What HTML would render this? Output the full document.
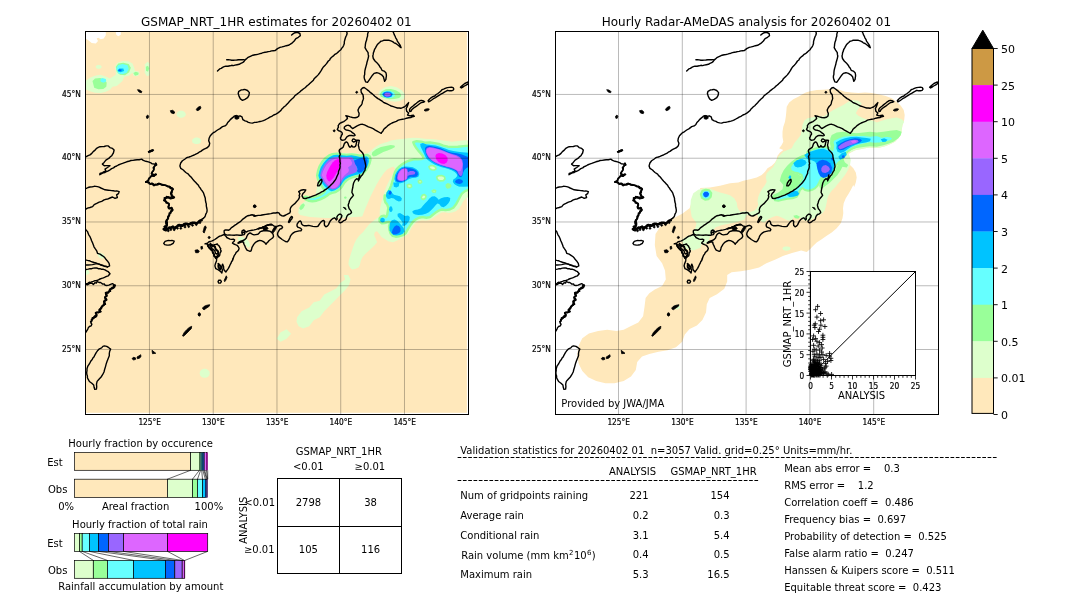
<!DOCTYPE html>
<html><head><meta charset="utf-8"><title>GSMAP_NRT_1HR validation 20260402 01</title>
<style>
html,body{margin:0;padding:0;background:#fff;}
body{width:1080px;height:612px;overflow:hidden;position:relative;}
svg{position:absolute;left:0;top:0;display:block;will-change:transform;}
text{font-family:"DejaVu Sans","Liberation Sans",sans-serif;fill:#000;white-space:pre;}
.t12{font-size:12px}.t11{font-size:11px}.t10{font-size:10px}
.tk{font-family:"DejaVu Sans Condensed","DejaVu Sans","Liberation Sans Narrow",sans-serif;font-stretch:condensed;font-size:8.5px;stroke:#000;stroke-width:0.2px}
.coast{fill:none;stroke:#000;stroke-width:1.4;stroke-linejoin:round;stroke-linecap:round}
.lake{fill:#000;stroke:#000;stroke-width:0.8;stroke-linejoin:round}
.grid{stroke:#000;stroke-opacity:0.27;stroke-width:1;fill:none}
.frame{fill:none;stroke:#000;stroke-width:1}
.thin{fill:none;stroke:#000;stroke-width:0.8}
</style></head><body>
<svg width="1080" height="612" viewBox="0 0 1080 612">
<defs>
<clipPath id="clipL"><rect x="85.5" y="31.5" width="383.0" height="383.0"/></clipPath>
<clipPath id="clipR"><rect x="555.5" y="31.5" width="383.0" height="383.0"/></clipPath>
<g id="coast">
<path class="coast" d="M217.5,71.0 L219.6,68.9 L221.2,68.4 L222.6,67.4 L224.1,66.7 L225.8,66.2 L227.9,66.2 L230.0,65.8 L231.7,65.3 L233.4,65.6 L235.0,65.1 L237.1,64.7 L239.2,64.3 L240.8,63.4 L242.5,62.7 L243.9,61.6 L244.9,60.1 L246.3,58.9 L247.6,57.7 L249.2,56.9 L250.9,56.1 L252.9,55.2 L255.0,54.7 L256.7,54.5 L258.4,54.1 L260.0,53.6 L261.7,53.2 L263.3,52.6 L265.0,52.3 L266.7,52.0 L268.3,51.6 L270.0,51.4 L271.6,50.9 L273.3,50.7 L275.0,50.6 L276.3,49.6 L277.5,48.6 L280.0,47.4 L282.1,46.9 L284.2,46.3 L286.2,45.7 L288.4,45.3 L290.0,44.4 L291.6,43.4 L292.9,42.2 L294.2,41.0 L295.9,38.6 L298.3,37.3 L300.3,35.7 L299.9,33.5 L297.5,32.3 L295.0,32.7 L292.9,33.9 L291.6,35.1"/>
<path class="coast" d="M226.7,59.7 L228.3,59.8 L230.0,59.9 L231.7,60.3 L233.3,60.2 L235.0,60.1 L236.7,60.0 L238.7,59.7 L240.8,59.7 L242.5,59.8 L244.2,59.6"/>
<path class="coast" d="M238.8,91.3 L241.4,89.9 L243.0,89.7 L244.7,89.4 L247.5,90.5 L249.4,92.6 L248.9,95.3 L247.6,97.7 L244.9,99.3 L242.5,100.3 L240.4,98.9 L239.1,96.4 L238.2,93.5Z"/>
<path class="coast" d="M203.3,218.3 L204.5,217.3 L205.3,215.8 L205.8,214.1 L206.7,212.5 L207.1,210.9 L207.0,209.2 L206.6,207.5 L206.3,205.8 L206.3,203.9 L205.7,202.0 L205.4,200.2 L205.3,198.3 L204.7,196.5 L204.1,194.7 L203.5,192.9 L202.5,191.3 L201.3,189.9 L200.4,188.3 L199.2,186.9 L198.4,185.3 L197.1,183.9 L195.8,182.5 L194.5,181.2 L193.2,179.8 L192.0,178.2 L190.8,176.7 L189.4,175.6 L188.4,174.1 L185.8,172.5 L184.5,171.3 L183.3,170.0 L180.8,168.4 L179.9,165.9 L180.7,163.0 L182.4,160.8 L184.7,159.2 L186.0,158.2 L187.4,157.4 L189.2,157.0 L190.8,156.4 L192.5,155.6 L194.2,155.0 L195.8,154.1 L197.5,153.4 L199.1,152.2 L200.8,151.4 L202.4,150.1 L204.1,149.1 L205.8,148.3 L207.5,147.5 L209.1,145.8 L209.7,143.3 L208.7,140.8 L209.1,138.3 L210.3,135.8 L212.4,133.6 L213.6,132.5 L215.1,131.8 L217.5,130.0 L220.0,128.6 L221.2,127.6 L222.5,126.7 L225.0,125.9 L226.7,124.4 L227.7,122.5 L229.2,121.0 L230.3,119.6 L231.7,118.4 L232.9,117.4 L234.1,116.2 L235.8,115.6 L237.5,116.6 L240.0,115.8 L242.0,116.9 L242.9,119.7 L245.0,120.9 L246.8,121.4 L248.3,122.3 L250.4,122.9 L252.5,123.1 L254.5,122.4 L256.6,122.2 L258.3,121.9 L260.0,121.5 L261.7,121.1 L263.4,120.6 L265.1,119.9 L266.7,119.0 L268.3,118.1 L269.9,117.1 L271.7,116.3 L273.7,115.0 L275.9,114.1 L277.6,113.1 L279.2,111.9 L280.6,110.8 L281.6,109.3 L282.9,108.1 L284.1,106.8 L285.6,105.7 L286.7,104.4 L288.4,102.7 L289.9,100.9 L291.6,99.2 L293.4,97.8 L294.8,95.8 L296.7,94.4 L298.1,93.3 L299.5,92.2 L300.8,90.9 L302.2,89.9 L303.6,88.8 L305.1,87.7 L306.4,86.4 L307.8,85.3 L309.2,84.1 L310.6,82.8 L312.0,81.5 L313.4,80.2 L314.2,78.7 L315.4,77.5 L316.7,76.4 L317.9,75.1 L319.0,73.8 L320.0,72.3 L321.3,70.4 L322.4,68.4 L323.6,66.7 L325.1,65.2 L326.3,63.9 L327.3,62.5 L328.3,61.0 L329.7,60.0 L330.4,58.4 L331.6,57.2 L333.4,55.9 L334.9,54.3 L336.8,53.3 L338.4,51.9 L339.5,50.7 L340.9,49.7 L341.8,48.1 L343.0,46.8 L343.7,45.2 L344.3,43.5 L344.3,41.8 L344.7,40.2 L345.2,38.5 L345.8,36.8 L346.6,35.2 L347.1,33.5 L346.6,31.0"/>
<path class="coast" d="M368.3,31.0 L368.2,32.3 L367.6,34.1 L367.6,36.0 L366.9,38.1 L366.6,40.1 L365.8,42.2 L365.4,44.4 L365.3,46.0 L365.0,47.7 L366.4,50.2 L368.1,52.6 L368.2,54.4 L368.6,56.0 L368.2,58.1 L367.6,60.2 L367.0,62.2 L366.6,64.3 L366.0,66.4 L365.4,68.5 L364.9,70.6 L364.7,72.7 L364.7,74.4 L364.2,76.0 L364.2,77.7 L364.6,79.3 L365.7,81.9 L367.5,82.3 L369.1,80.1 L370.8,77.7 L372.5,75.2 L374.1,73.4 L376.7,72.7 L379.2,73.4 L381.6,74.8 L383.4,76.8 L384.1,79.4 L384.6,81.3 L385.9,79.4 L386.1,77.7 L386.4,76.0 L386.3,74.3 L385.9,72.7 L384.1,71.1 L382.0,70.3 L380.9,68.0 L379.8,66.7 L379.0,65.2 L377.1,62.9 L375.0,61.0 L373.3,58.5 L372.8,56.0 L373.2,54.4 L373.4,52.7 L374.1,51.1 L374.6,49.3 L375.5,47.8 L376.3,46.3 L377.2,44.8 L378.4,43.6 L379.6,42.5 L380.8,41.3 L382.5,40.9 L384.1,40.1 L385.8,40.3 L387.5,40.3 L389.2,40.3 L390.9,40.9 L392.6,41.6 L394.1,42.8 L395.9,43.5 L397.5,44.7 L398.8,45.7 L399.9,46.9 L401.1,47.7 L400.1,45.1 L398.4,42.6 L397.3,41.1 L396.7,39.3 L395.7,37.8 L395.0,36.0 L394.2,34.6 L393.7,33.0 L392.5,31.0"/>
<path class="coast" d="M364.2,87.5 L366.6,89.2 L368.3,90.6 L369.9,92.1 L371.6,93.4 L373.3,94.7 L374.8,96.3 L376.6,97.6 L377.9,98.6 L379.4,99.4 L380.8,100.3 L382.2,101.2 L383.5,102.3 L385.0,103.0 L387.1,103.9 L389.2,105.0 L391.2,106.0 L393.4,106.6 L395.4,107.3 L397.5,108.0 L399.2,108.0 L400.8,108.3 L402.5,107.7 L404.2,107.0 L405.6,106.0 L406.7,104.7 L408.6,102.6 L407.7,105.3 L407.1,106.9 L406.2,108.3 L406.7,111.3 L408.6,113.1 L407.5,115.0 L410.0,115.9 L411.7,115.5 L413.4,115.1 L414.3,116.4 L412.5,116.7 L410.8,117.5 L408.7,117.8 L406.6,118.2 L404.6,118.9 L402.5,119.2 L400.4,119.6 L398.3,120.2 L396.3,121.3 L394.2,122.1 L392.0,123.0 L390.0,124.1 L388.2,125.3 L386.7,126.7 L385.1,128.1 L383.6,129.6 L382.8,131.2 L381.6,132.4 L381.2,133.4 L379.6,132.5 L377.6,131.4 L375.3,130.1 L373.1,128.7 L370.8,127.7 L368.4,126.9 L366.5,125.8 L364.5,124.9 L362.6,124.3 L360.6,124.4 L358.7,125.2 L356.7,126.1 L355.1,127.1 L353.7,128.0 L352.5,128.5 L351.1,127.3 L350.2,126.0 L348.6,125.3 L346.9,125.4 L345.4,126.2 L344.4,127.0 L344.2,128.4 L345.1,129.4 L346.5,130.1 L348.2,130.3 L349.9,130.8 L351.2,131.5 L352.4,132.7 L353.8,133.6 L354.7,134.5 L355.1,135.4 L353.8,135.9 L351.8,135.5 L349.8,135.4 L348.2,136.0 L346.9,136.9 L346.0,138.2 L345.0,139.6 L343.6,140.1 L342.0,140.2 L340.7,139.1 L340.4,137.9 L341.1,136.6 L341.6,135.2 L342.4,134.0 L342.0,132.6 L341.0,131.7 L339.7,131.1 L338.3,130.5 L337.3,129.5 L337.7,128.4 L338.5,127.1 L338.1,125.8 L338.9,124.5 L339.8,123.3 L341.6,122.5 L343.7,121.6 L345.2,120.5 L346.5,119.5 L347.5,118.2 L347.0,116.9 L345.8,115.7 L347.9,116.2 L350.2,116.9 L352.5,117.5 L355.1,117.7 L357.3,117.2 L358.6,116.2 L359.0,115.0 L359.1,113.3 L358.4,111.7 L358.0,110.0 L359.2,107.5 L360.2,106.2 L361.4,105.1 L362.1,103.4 L362.4,101.6 L363.0,100.0 L363.5,98.4 L363.2,96.7 L363.1,95.0 L361.3,92.5 L360.9,89.7 L362.5,88.0Z"/>
<path class="coast" d="M409.5,110.1 L410.1,108.5 L411.4,107.3 L413.0,106.0 L414.6,104.6 L416.4,103.2 L418.1,101.8 L419.6,100.8 L421.5,100.4 L423.6,101.0 L424.6,101.6 L423.1,102.3 L421.3,102.6 L419.9,103.5 L418.3,104.8 L416.5,106.1 L414.6,107.3 L413.0,108.6 L411.8,109.7 L410.9,111.4 L409.8,111.5Z"/>
<path class="coast" d="M428.1,100.7 L429.4,99.2 L431.0,97.8 L432.8,96.7 L434.7,96.0 L436.2,94.5 L437.9,93.5 L439.5,92.3 L440.9,91.0 L442.0,89.7 L443.6,89.1 L445.2,88.4 L447.3,87.6 L449.4,87.4 L451.4,87.2 L453.2,87.7 L453.8,89.1 L452.9,90.4 L451.2,90.8 L449.3,90.8 L447.7,90.3 L446.1,91.2 L444.4,92.1 L442.8,93.2 L440.9,94.2 L439.0,95.3 L437.3,96.4 L435.5,97.6 L433.4,98.7 L431.7,100.0 L430.0,101.2 L428.7,101.8Z"/>
<path class="coast" d="M460.4,87.3 L461.7,86.1 L463.2,84.8 L464.8,83.5 L466.6,82.6 L468.1,82.0 L469.0,82.7 L467.8,84.1 L466.1,85.1 L464.4,86.0 L462.8,87.1 L461.4,88.0Z"/>
<path class="coast" d="M224.6,233.8 L224.1,232.1 L224.2,230.7 L225.4,229.9 L227.1,230.0 L228.7,230.2 L230.0,229.3 L231.2,227.9 L233.0,226.7 L234.6,225.4 L236.3,224.3 L237.9,223.2 L239.6,222.1 L241.3,220.7 L242.9,219.1 L244.6,217.9 L246.2,216.6 L247.9,215.7 L250.0,215.3 L252.1,214.8 L253.7,215.1 L254.9,216.1 L256.2,215.7 L258.3,215.4 L260.8,215.3 L263.3,214.8 L265.8,214.4 L268.3,214.0 L270.8,213.6 L273.3,213.0 L275.8,213.0 L277.5,212.5 L279.2,213.1 L279.9,214.6 L281.7,215.7 L283.7,216.0 L285.8,215.0 L287.9,213.8 L289.9,212.8 L290.4,211.3 L290.1,209.6 L290.6,207.9 L291.7,206.2 L293.3,204.8 L295.1,203.4 L296.4,201.8 L297.9,200.1 L299.0,198.5 L299.6,196.8 L299.1,195.7 L299.9,193.6 L298.7,191.7 L300.8,190.3 L303.3,189.7 L305.8,189.9 L304.6,191.9 L302.9,193.6 L302.0,195.8 L303.4,198.3 L305.9,198.5 L307.4,197.9 L309.2,197.5 L311.3,196.7 L313.3,195.8 L315.5,195.1 L317.5,194.1 L319.6,193.1 L321.6,191.9 L323.4,191.1 L324.9,189.9 L326.7,188.8 L328.4,187.5 L329.7,186.3 L330.9,185.1 L332.2,183.8 L333.4,182.5 L334.3,181.2 L335.3,179.9 L336.2,178.3 L336.9,176.6 L337.6,175.0 L338.4,173.4 L338.5,171.6 L339.1,170.0 L339.8,168.4 L340.1,166.7 L339.9,165.0 L340.4,163.3 L339.9,161.7 L339.9,160.0 L339.7,158.3 L339.2,156.6 L340.3,154.2 L339.6,152.6 L339.1,150.9 L339.6,149.6 L341.0,148.7 L342.3,147.9 L343.2,147.0 L343.8,145.3 L344.3,143.8 L345.3,142.5 L346.5,141.9 L347.6,142.7 L348.2,144.1 L348.7,145.7 L349.6,147.0 L350.6,147.1 L351.3,146.2 L351.6,145.4 L352.4,146.7 L354.1,147.1 L355.4,146.4 L356.0,145.1 L356.3,143.4 L356.8,141.8 L356.9,140.8 L355.7,141.2 L354.4,141.8 L353.4,142.0 L352.4,141.2 L352.1,140.5 L352.9,139.2 L353.8,138.9 L354.8,139.5 L355.7,140.1 L357.0,140.3 L358.3,140.2 L359.3,140.5 L359.0,141.8 L358.7,143.4 L358.3,145.1 L358.8,147.0 L359.1,148.7 L359.9,150.3 L361.3,151.6 L362.6,152.9 L363.6,155.0 L363.8,157.1 L364.2,159.2 L364.8,161.1 L365.2,163.0 L365.6,164.8 L365.8,166.7 L365.2,168.4 L365.0,170.3 L364.0,171.7 L363.2,173.3 L362.5,174.7 L361.3,175.8 L359.7,178.3 L358.4,180.9 L358.8,178.9 L359.2,176.9 L359.6,175.0 L359.1,177.5 L358.3,179.6 L356.7,178.7 L355.0,180.3 L353.6,183.0 L353.0,185.8 L352.8,187.5 L352.4,189.2 L352.1,190.8 L351.9,192.5 L352.7,193.9 L353.4,195.4 L352.1,197.1 L350.6,198.7 L349.5,200.8 L348.9,203.0 L348.2,205.0 L348.6,207.1 L349.2,208.7 L350.2,209.9 L351.2,211.3 L351.5,212.7 L350.2,213.8 L348.3,214.5 L347.2,215.8 L346.5,217.3 L346.2,219.0 L345.1,220.2 L343.3,220.9 L341.9,222.2 L340.4,222.9 L339.2,222.4 L338.8,221.2 L339.6,220.0 L340.6,218.7 L341.5,217.3 L341.9,215.7 L340.9,214.3 L339.2,214.3 L337.7,215.5 L336.8,217.2 L337.2,219.1 L336.3,220.0 L335.6,218.8 L334.5,217.8 L333.1,218.4 L331.6,219.5 L330.3,220.9 L329.3,222.9 L328.4,224.9 L327.2,226.2 L325.9,226.8 L324.6,225.6 L324.3,223.7 L324.6,221.7 L323.9,220.5 L322.5,220.8 L321.1,221.9 L319.9,223.4 L318.8,225.0 L317.9,226.3 L316.7,226.6 L315.0,226.6 L312.9,226.4 L310.8,225.9 L308.8,225.4 L306.7,225.8 L304.6,225.8 L302.7,225.1 L301.5,223.8 L301.3,222.1 L300.4,221.0 L299.1,221.4 L298.0,222.8 L297.1,224.2 L297.0,225.9 L297.7,227.1 L299.1,227.7 L300.8,228.4 L301.7,229.6 L300.9,230.8 L299.2,230.9 L297.1,231.4 L295.0,231.9 L293.3,232.9 L291.8,234.2 L290.6,235.8 L289.9,237.6 L289.2,239.2 L288.3,240.8 L287.2,241.9 L285.4,241.5 L283.8,240.5 L282.1,239.5 L280.7,238.3 L279.1,237.2 L278.0,235.8 L277.5,234.2 L277.9,232.5 L278.8,230.9 L279.9,229.2 L281.7,228.5 L282.6,227.1 L281.6,225.9 L280.0,225.3 L277.9,226.0 L275.9,226.6 L273.8,225.8 L271.7,224.5 L269.6,224.9 L267.5,225.1 L265.9,225.9 L264.6,226.7 L263.4,227.2 L262.1,227.7 L260.4,228.3 L258.3,228.7 L256.3,229.4 L254.2,229.9 L252.1,230.2 L250.0,230.6 L247.9,231.2 L246.3,232.1 L245.4,231.7 L244.7,230.5 L243.3,230.0 L242.1,230.8 L241.8,232.5 L242.1,233.7 L243.0,232.5 L244.2,232.0 L244.9,233.3 L244.1,234.6 L242.9,234.9 L241.2,235.3 L239.2,235.3 L236.7,234.9 L234.2,235.3 L231.7,235.1 L229.2,234.9 L227.1,235.1 L225.8,234.7Z"/>
<path class="coast" d="M317.5,185.8 L318.2,183.0 L320.0,180.3 L321.7,179.3 L322.0,181.3 L320.9,183.7 L319.2,185.9Z"/>
<path class="coast" d="M288.5,222.1 L289.1,220.4 L289.8,218.7 L290.9,217.1 L291.8,216.4 L292.5,217.3 L291.9,218.8 L290.8,220.0 L289.9,221.6 L289.0,222.5Z"/>
<path class="coast" d="M247.5,235.0 L248.4,233.8 L250.0,232.9 L251.2,233.5 L252.5,234.4 L254.1,234.9 L255.8,234.6 L257.9,234.3 L259.2,233.0 L260.0,231.9 L261.6,231.2 L263.3,230.8 L265.0,230.5 L267.1,230.7 L268.8,231.0 L270.5,231.4 L271.6,232.5 L272.8,233.7 L273.3,235.0 L273.5,236.7 L272.7,237.9 L271.5,238.8 L270.1,239.8 L268.9,240.7 L267.7,242.2 L266.6,243.3 L266.1,244.3 L265.4,243.3 L264.2,242.2 L262.9,241.3 L261.3,240.6 L259.6,240.4 L257.9,241.0 L256.3,241.8 L255.0,242.9 L253.9,244.1 L253.0,245.7 L252.0,247.3 L251.6,249.0 L251.1,250.8 L250.0,251.3 L248.3,250.7 L247.0,250.1 L246.2,248.8 L245.4,247.5 L244.9,246.0 L244.2,244.6 L243.6,243.2 L243.6,242.1 L242.5,241.8 L241.3,242.1 L240.0,242.6 L238.8,243.2 L237.9,243.0 L239.1,242.0 L240.8,241.2 L242.5,240.6 L244.2,240.0 L245.3,239.1 L246.3,238.0 L246.8,236.5Z"/>
<path class="coast" d="M205.0,243.8 L206.3,243.4 L207.6,243.1 L208.7,242.0 L210.1,241.4 L211.6,241.1 L213.1,240.4 L214.8,239.5 L216.4,238.4 L218.0,237.2 L219.7,236.1 L221.4,235.7 L222.9,235.0 L224.5,234.2 L224.8,235.2 L225.9,236.2 L226.8,237.5 L228.4,238.3 L230.0,239.1 L231.6,239.4 L233.3,239.1 L234.6,239.9 L234.2,241.3 L233.0,242.2 L232.5,243.1 L233.8,244.0 L235.4,244.7 L237.1,245.3 L238.3,246.7 L239.1,248.3 L238.6,250.0 L237.6,251.3 L236.2,252.4 L235.3,254.1 L234.2,255.7 L233.5,257.5 L233.0,259.2 L232.3,261.0 L233.1,258.3 L232.6,260.1 L231.6,261.6 L230.9,263.4 L230.0,265.0 L229.3,266.7 L228.4,268.3 L226.6,270.8 L225.8,272.0 L224.1,270.0 L223.6,268.4 L223.6,266.7 L222.6,264.1 L221.7,266.7 L221.9,268.4 L222.4,270.0 L221.9,273.0 L220.8,271.7 L218.4,269.9 L215.8,268.7 L214.9,265.9 L215.3,264.1 L215.9,262.5 L216.5,260.9 L216.6,259.1 L217.1,257.6 L218.3,256.7 L219.6,255.7 L219.9,254.1 L220.0,253.0 L220.7,252.0 L221.2,250.9 L220.4,249.8 L220.7,248.5 L219.8,247.5 L219.3,246.1 L218.1,245.2 L217.3,244.0 L215.7,244.5 L214.6,244.6 L213.4,245.1 L212.5,245.8 L211.9,246.9 L211.2,248.1 L209.5,248.1 L209.0,247.1 L208.1,246.0 L207.9,244.3 L206.5,243.5Z"/>
<path class="coast" d="M207.5,244.7 L207.9,246.3 L208.9,247.7 L210.0,248.6 L211.2,249.4 L212.7,250.5 L212.4,252.2 L213.0,253.4 L214.3,254.4 L213.8,255.9 L215.0,256.9 L215.7,258.1 L217.1,257.2 L217.5,255.8 L218.5,254.8 L218.3,253.3 L218.3,252.0 L217.7,250.8 L216.2,250.5 L215.9,249.1 L215.1,248.0 L214.7,246.8 L214.1,245.7 L212.9,246.1 L212.0,245.0 L210.6,246.0 L209.8,244.6 L208.5,245.4Z"/>
<path class="coast" d="M210.8,245.0 L210.8,246.7 L211.6,248.1 L212.6,249.2 L214.0,249.8 L214.9,251.0 L215.2,252.4 L215.7,253.5 L216.8,254.0 L218.3,252.7"/>
<path class="coast" d="M218.3,263.7 L220.1,265.3 L221.4,267.5 L220.2,269.6 L219.1,268.0 L218.4,265.8Z"/>
<path class="coast" d="M218.0,281.7 L218.8,280.1 L220.5,280.2 L221.4,281.6 L220.4,283.1 L218.8,283.1Z"/>
<path class="coast" d="M198.3,314.2 L199.3,313.0 L200.3,314.2 L199.3,315.5Z"/>
<path class="coast" d="M163.7,243.3 L165.1,241.4 L166.7,240.9 L168.4,240.4 L170.2,240.6 L172.0,240.4 L174.2,241.2 L173.2,243.3 L170.8,244.7 L168.9,245.0 L167.0,245.1 L164.7,244.6Z"/>
<path class="coast" d="M85.0,157.0 L86.3,156.6 L88.1,155.7 L90.0,154.9 L91.8,153.4 L93.2,151.6 L95.1,150.1 L96.6,148.3 L98.3,147.4 L100.0,146.7 L102.1,146.6 L104.2,146.5 L106.2,145.9 L108.3,145.9 L109.9,147.6 L112.5,148.4 L114.1,150.0 L113.4,153.0 L112.5,154.4 L111.7,155.8 L110.2,156.9 L109.1,158.2 L107.5,159.1 L105.9,160.1 L104.1,162.4 L102.4,164.1 L104.3,165.7 L105.8,165.6 L107.5,165.6 L110.0,165.7 L107.5,167.5 L105.0,169.1 L105.9,171.3 L104.1,171.7 L102.5,172.6 L100.0,173.4 L99.8,174.7 L101.6,173.6 L103.2,172.8 L105.0,172.5 L106.6,171.5 L108.3,170.8 L110.1,169.8 L111.6,168.6 L113.5,167.9 L115.0,166.6 L116.7,166.0 L118.3,165.0 L120.4,164.1 L122.5,163.4 L124.6,162.6 L126.7,161.8 L128.8,161.3 L130.8,160.5 L132.9,160.4 L135.0,160.0 L137.1,159.7 L139.2,159.7 L141.6,159.1 L143.3,160.4 L145.8,161.3 L148.4,161.9 L150.9,162.9 L152.0,163.7 L153.3,163.9 L154.7,164.2 L155.8,163.3 L156.4,165.0 L155.1,165.7 L154.3,166.8 L154.2,168.0 L154.0,169.2 L153.5,170.6 L152.5,171.7 L152.2,172.8 L151.5,173.8 L153.2,174.8 L154.8,175.0 L156.3,174.5 L155.2,175.2 L154.3,176.0 L152.9,175.3 L151.8,175.4 L150.9,176.6 L149.1,178.3 L148.1,180.9 L145.8,182.0 L147.5,182.2 L149.2,182.6 L150.3,184.2 L151.4,183.9 L152.6,184.0 L152.9,185.0 L153.9,185.6 L155.4,184.9 L156.7,184.8 L158.2,184.8 L159.3,184.0 L160.6,183.7 L161.7,184.5 L163.0,184.5 L164.2,185.3 L165.5,185.2 L166.6,186.0 L167.9,186.4 L169.1,186.5 L170.4,186.8 L170.9,187.9 L172.3,187.9 L173.1,189.0 L172.0,191.1 L171.0,192.0 L170.8,193.3 L171.1,194.7 L172.1,195.8 L173.3,196.4 L174.4,197.2 L173.0,198.2 L171.6,198.2 L170.7,197.2 L169.1,197.6 L168.0,196.6 L166.6,197.3 L166.0,198.1 L164.9,198.6 L164.2,200.3 L166.0,201.4 L167.0,202.2 L167.6,203.2 L168.8,203.7 L169.0,205.2 L168.1,206.9 L169.8,208.6 L171.6,207.8 L172.4,210.0 L171.2,210.3 L170.9,211.7 L170.2,213.1 L169.3,214.3 L169.2,215.6 L168.5,216.7 L168.5,218.1 L167.7,219.2 L166.3,220.1 L166.5,221.7 L167.3,222.6 L167.3,223.8 L167.2,225.0 L165.8,226.0 L165.7,227.7 L165.0,228.8 L163.9,229.4 L164.6,230.2 L166.1,229.9 L167.2,229.5 L168.3,228.6 L169.3,227.9 L170.7,228.0 L171.5,226.8 L172.7,227.7 L174.0,227.0 L174.9,228.0 L176.0,226.7 L177.3,226.3 L178.6,225.9 L179.8,225.4 L181.1,226.0 L182.5,225.7 L183.5,225.1 L185.2,225.3 L185.6,223.5 L186.9,224.3 L187.9,224.9 L189.1,224.5 L189.9,223.1 L191.1,222.7 L192.7,223.0 L193.6,223.0 L194.7,223.4 L195.8,223.3 L197.1,222.8 L198.3,222.3 L199.1,221.0 L200.5,221.1 L201.6,220.0 L202.0,218.9 L203.5,218.5"/>
<path class="coast" d="M85.0,188.7 L86.4,188.4 L88.1,187.5 L90.0,187.0 L92.1,186.9 L94.2,186.3 L95.8,186.4 L97.5,186.6 L99.2,187.2 L100.9,188.0 L103.4,189.1 L105.0,189.8 L106.7,190.0 L108.3,190.2 L110.0,190.4 L111.7,190.6 L113.3,190.8 L115.0,191.1 L116.7,190.9 L119.2,191.6 L118.4,193.7 L116.6,194.9 L117.4,197.5 L115.0,198.3 L112.5,197.0 L110.0,198.0 L107.5,199.1 L105.8,199.3 L104.1,199.9 L101.7,201.3 L99.2,202.1 L96.7,203.4 L94.2,204.6 L92.6,206.7 L90.0,207.5 L87.5,208.2 L85.0,209.6"/>
<path class="coast" d="M85.0,228.3 L86.2,230.1 L87.5,231.6 L88.2,233.4 L88.9,235.1 L90.0,236.7 L90.9,238.7 L91.6,240.8 L92.6,242.9 L93.4,245.0 L94.0,246.8 L95.0,248.4 L96.7,250.8 L97.5,253.3 L100.0,254.1 L102.5,255.8 L103.9,256.8 L105.0,257.9 L106.1,259.6 L107.4,260.9 L109.1,263.4 L109.6,265.9 L107.5,267.0 L105.9,266.6 L104.2,266.2 L102.5,265.6 L100.8,265.1 L99.2,264.2 L97.5,263.6 L95.9,262.9 L94.2,262.5 L92.5,262.0 L90.8,261.4 L89.2,260.7 L87.5,260.4 L85.0,259.9"/>
<path class="coast" d="M85.0,265.3 L86.6,264.9 L88.3,265.0 L90.4,264.9 L92.5,264.6 L94.6,264.1 L96.7,263.6 L98.8,264.1 L100.8,264.7 L102.5,265.2 L104.1,265.9 L105.9,266.2 L107.5,266.9"/>
<path class="coast" d="M85.0,270.0 L86.6,269.4 L88.3,269.1 L90.0,268.6 L91.7,268.7 L93.3,268.1 L95.0,268.0 L96.7,268.0 L98.3,268.7 L100.0,268.6 L101.6,269.3 L103.4,269.3 L105.0,269.9 L106.6,270.9 L108.3,271.7 L110.0,273.7 L108.3,275.8 L106.6,276.3 L105.0,277.1 L103.4,277.8 L101.7,278.3 L100.0,279.0 L98.4,279.8 L96.7,280.5 L95.0,280.7 L93.3,281.4 L91.6,281.9 L90.6,282.5 L89.3,282.2 L88.3,282.9 L87.4,284.0 L86.2,283.7 L85.0,283.7"/>
<path class="coast" d="M85.0,284.7 L86.2,284.4 L87.6,284.8 L88.8,283.9 L89.9,283.3 L91.3,283.1 L92.4,283.3 L93.3,284.5 L94.3,283.6 L94.9,282.6 L96.3,283.1 L97.1,281.5 L98.4,282.2 L99.4,282.5 L100.6,282.5 L101.6,283.2 L102.7,284.1 L104.3,284.0 L105.2,285.3 L106.9,285.5 L107.8,285.4 L108.9,285.1 L110.0,284.6 L111.2,284.1 L112.5,283.6 L113.8,284.5 L114.9,285.5 L114.8,286.9 L113.6,287.7 L112.4,288.7 L110.9,288.9 L110.1,289.6 L110.1,290.9 L109.1,291.6 L108.6,292.7 L107.2,293.2 L105.7,293.0 L105.7,294.8 L106.8,295.8 L105.6,296.4 L104.8,297.3 L105.2,299.0 L106.5,299.9 L105.4,301.0 L104.3,301.8 L105.0,302.8 L105.2,304.1 L104.0,305.4 L102.4,305.6 L101.4,306.9 L100.7,308.2 L100.3,309.5 L99.4,310.3 L100.7,311.5 L99.7,312.2 L98.2,312.2 L96.9,312.4 L95.7,313.0 L96.8,314.4 L96.6,315.8 L95.2,315.6 L94.2,316.6 L93.8,318.2 L92.4,319.1 L91.7,320.5 L91.1,321.8 L90.9,323.0 L91.9,324.1 L91.2,325.8 L89.4,326.5 L88.4,327.6 L87.8,329.1 L86.4,331.4 L85.1,333.4"/>
<path class="coast" d="M104.4,345.9 L106.7,346.4 L108.8,347.7 L110.6,349.1 L109.7,351.2 L109.3,353.5 L109.3,355.8 L108.2,358.4 L107.1,361.2 L106.2,363.9 L105.5,366.6 L104.7,369.2 L104.0,372.0 L102.6,374.7 L101.1,377.0 L99.0,379.2 L97.1,381.4 L96.5,384.1 L96.7,386.8 L96.4,389.1 L94.7,389.4 L94.1,387.3 L93.7,385.0 L91.8,383.2 L89.4,381.5 L88.1,379.2 L87.4,377.7 L87.4,376.0 L86.8,374.3 L86.7,372.4 L87.0,370.6 L87.0,368.8 L87.8,366.2 L88.7,364.8 L89.6,363.5 L91.1,360.7 L92.2,359.5 L92.9,358.0 L94.1,356.8 L94.7,355.3 L96.2,352.6 L97.8,350.4 L99.4,348.8 L101.6,347.9 L102.9,346.4Z"/>
<path class="coast" style="stroke-width:2.6" d="M166.3,221.7 L166.6,222.8 L166.7,223.9 L166.7,225.1 L166.5,225.9 L165.9,226.7 L165.3,227.5 L164.8,228.6 L163.7,229.2 L164.8,229.8 L165.9,230.2 L166.9,228.8 L168.3,228.5 L169.2,227.6 L170.7,228.1 L171.7,227.3 L172.9,226.7 L173.8,228.2 L175.0,228.0 L176.2,227.1 L177.3,226.4 L178.2,225.3 L179.5,225.0 L180.4,225.8 L181.5,225.3 L182.5,225.8 L183.4,225.0 L184.4,224.0 L185.8,223.8 L187.0,223.9 L188.0,224.6 L189.2,224.3 L190.4,224.0 L191.4,223.2 L192.6,222.8 L193.6,222.8 L194.8,222.7 L195.8,223.5 L197.3,223.1 L198.3,222.2 L199.2,221.3 L200.3,220.5 L201.6,220.2"/>
<path class="coast" style="stroke-width:2.0" d="M170.8,188.0 L171.9,188.6 L172.9,189.3 L172.2,189.9 L171.9,191.0 L171.9,192.3 L170.9,193.4 L171.7,194.4 L171.8,195.9 L172.9,196.9 L174.1,197.6 L172.9,197.8 L171.6,198.2 L170.3,198.4 L169.2,197.5 L167.8,197.7 L166.7,196.7 L166.0,198.2 L164.5,198.1 L165.0,199.5 L164.0,200.3 L165.1,200.8 L165.9,201.6 L166.3,202.8 L167.7,203.1 L168.8,203.7 L169.0,205.2 L168.7,206.0 L168.6,207.1 L168.7,208.2 L169.8,208.6 L171.6,207.7 L172.2,209.0 L172.7,209.9 L171.9,211.0 L170.8,211.6 L170.7,212.8 L169.5,213.2 L169.4,214.3 L169.2,215.6 L168.1,216.6 L168.0,218.0 L167.6,219.2 L166.8,220.4 L166.3,221.7"/>
<path class="coast" style="stroke-width:1.8" d="M145.8,182.0 L147.0,181.8 L148.0,182.6 L149.1,182.6 L149.3,183.6 L150.5,184.0 L151.3,183.5 L152.4,183.4 L153.6,184.2 L154.1,185.4 L155.3,184.5 L156.7,184.7 L157.8,183.8 L159.1,183.5 L160.5,184.1 L161.6,184.9 L162.9,185.1 L164.3,185.0 L165.5,185.3 L166.7,185.6 L167.8,186.6 L169.1,186.5 L169.7,187.5 L170.7,188.2"/>
<path class="coast" style="stroke-width:1.6" d="M155.8,163.3 L156.6,164.9 L155.1,165.6 L154.1,166.6 L153.3,167.8 L153.8,169.2 L153.4,170.6 L152.4,171.6 L151.7,172.6 L151.5,173.7 L152.2,174.3 L153.4,174.4 L154.3,174.9 L155.4,174.1 L156.3,174.5 L155.0,174.8 L154.2,175.9 L153.1,176.3 L151.9,175.7 L150.8,176.2 L150.4,177.6 L149.1,178.3 L148.4,179.5 L148.2,180.9 L146.8,181.2 L146.0,182.2"/>
<path class="coast" style="stroke-width:2.0" d="M115.0,285.3 L113.7,286.0 L113.6,287.7 L111.9,287.8 L110.9,288.9 L109.8,289.5 L110.3,291.0 L108.8,291.3 L108.2,292.4 L106.9,292.4 L105.7,293.0 L106.6,294.5 L106.8,295.8 L105.6,296.5 L105.1,297.6 L106.0,298.6 L106.5,299.9 L104.9,300.4 L104.0,301.5 L104.2,303.0 L105.2,304.1 L103.8,304.2 L103.3,305.3 L102.6,306.0 L102.0,306.7 L101.5,307.6 L101.1,308.5 L99.9,309.1 L99.2,310.1 L99.9,310.7 L100.6,311.6 L99.5,311.7 L98.4,312.6 L96.9,312.4 L95.7,313.0 L96.3,314.6 L96.4,315.9 L95.6,316.9 L94.2,316.9 L94.0,317.8 L92.5,318.0 L92.4,319.1 L91.7,319.8 L91.6,321.0 L90.8,321.7"/>
<path class="coast" style="stroke-width:1.7" d="M207.5,244.7 L208.2,245.5 L208.6,246.5 L209.2,247.5 L210.0,248.6 L210.9,249.6 L211.6,250.4 L212.6,250.7 L212.8,252.1 L213.6,253.3 L213.9,254.5 L214.2,255.8 L215.3,256.7 L215.7,258.1 L216.5,256.8 L217.6,255.9 L218.3,254.7 L218.2,253.3 L218.3,252.0 L217.6,250.8 L216.8,249.9 L215.7,249.3 L215.4,247.9 L215.1,246.6 L213.9,246.2 L212.9,245.4 L212.0,244.9 L211.1,244.4 L210.4,243.5"/>
<path class="coast" style="stroke-width:1.6" d="M218.3,263.7 L219.2,264.5 L219.9,265.4 L220.4,266.6 L221.4,267.5 L220.6,268.5 L220.3,269.6 L219.8,268.8 L218.9,268.1 L218.3,267.0 L218.3,265.8"/>
<path class="coast" style="stroke-width:1.8" d="M258.3,228.8 L259.3,228.2 L260.4,228.2 L262.1,227.6 L263.3,226.9 L264.6,226.7 L265.8,225.8 L267.5,225.2 L268.5,225.0 L269.6,224.7 L270.6,224.5 L271.7,224.7"/>
<path class="lake" d="M424.0,110.3 L425.2,109.3 L427.3,108.7 L429.2,108.9 L428.9,110.0 L427.3,110.8 L425.4,111.1Z"/>
<path class="lake" d="M357.7,92.3 L357.4,93.0 L356.7,93.3 L356.0,93.0 L355.7,92.3 L356.0,91.6 L356.7,91.3 L357.4,91.6Z"/>
<path class="lake" d="M335.2,130.8 L334.9,131.5 L334.2,131.8 L333.5,131.5 L333.2,130.8 L333.5,130.1 L334.2,129.8 L334.9,130.1Z"/>
<path class="lake" d="M275.0,226.3 L276.9,226.8 L275.6,229.6 L273.3,232.8 L271.5,232.3 L273.0,229.3Z"/>
<path class="lake" d="M262.6,228.6 L264.2,227.2 L266.8,227.0 L268.2,228.2 L267.0,229.8 L264.2,230.2Z"/>
<path class="lake" d="M343.2,207.3 L345.4,207.8 L346.2,209.7 L344.7,208.8Z"/>
<path class="lake" d="M205.3,225.8 L206.3,227.5 L205.3,230.0 L204.2,233.0 L203.0,232.0 L203.7,229.2 L204.3,227.0Z"/>
<path class="lake" d="M210.3,237.5 L209.9,238.3 L209.2,238.6 L208.4,238.3 L208.1,237.5 L208.4,236.7 L209.2,236.4 L209.9,236.7Z"/>
<path class="lake" d="M195.0,250.3 L197.5,249.7 L199.3,251.0 L198.3,252.7 L195.7,252.7Z"/>
<path class="lake" d="M200.8,246.7 L202.3,246.3 L202.7,248.7 L201.2,249.3Z"/>
<path class="lake" d="M226.3,275.8 L227.0,277.5 L225.8,280.3 L224.7,281.7 L224.2,280.3 L225.3,278.0Z"/>
<path class="lake" d="M202.5,308.0 L204.2,306.3 L206.7,305.3 L209.7,304.7 L209.2,306.3 L206.7,308.0 L204.2,309.7 L203.0,309.2Z"/>
<path class="lake" d="M148.0,151.7 L150.8,150.3 L153.3,149.7 L153.7,150.7 L151.0,151.7 L148.7,152.7Z"/>
<path class="lake" d="M256.0,206.3 L255.6,207.3 L254.7,207.6 L253.7,207.3 L253.4,206.3 L253.7,205.4 L254.7,205.0 L255.6,205.4Z"/>
<path class="lake" d="M256.0,206.2 L255.6,207.1 L254.7,207.5 L253.7,207.1 L253.4,206.2 L253.7,205.2 L254.7,204.9 L255.6,205.2Z"/>
<path class="lake" d="M253.0,215.3 L255.0,215.0 L255.7,216.2 L253.7,216.5Z"/>
<path class="lake" d="M182.5,335.8 L184.2,332.5 L186.7,329.7 L189.2,327.5 L191.7,326.3 L191.3,328.7 L189.2,330.8 L187.0,333.0 L185.0,335.0 L183.3,336.3Z"/>
<path class="lake" d="M152.0,350.3 L155.8,353.3 L152.5,353.7Z"/>
<path class="lake" d="M132.0,358.7 L133.3,357.3 L135.3,357.7 L135.7,359.3 L133.7,360.0Z"/>
<path class="lake" d="M137.0,357.0 L138.7,356.0 L140.7,354.7 L141.0,356.7 L139.3,358.3 L137.3,358.7Z"/>
<path class="lake" d="M200.3,315.0 L200.0,315.7 L199.3,316.0 L198.6,315.7 L198.3,315.0 L198.6,314.3 L199.3,314.0 L200.0,314.3Z"/>
<path class="lake" d="M137.5,89.7 L139.7,90.0 L142.0,91.7 L141.3,92.7 L139.0,92.0Z"/>
<path class="lake" d="M146.3,116.3 L147.7,115.0 L148.7,116.3 L148.0,118.3 L146.7,118.3Z"/>
<path class="lake" d="M170.3,110.7 L172.7,110.3 L174.7,112.0 L174.0,113.7 L171.3,113.0Z"/>
<path class="lake" d="M196.3,109.3 L198.0,107.3 L200.3,106.3 L201.0,108.0 L199.3,110.0 L197.0,110.7Z"/>
<path class="lake" d="M148.0,151.7 L150.8,150.3 L153.3,149.7Z"/>
<path class="lake" d="M148.0,152.0 L150.5,150.5 L153.0,150.0 L153.0,151.0 L150.5,152.0Z"/>
<path class="lake" d="M234.7,116.3 L236.7,115.3 L238.7,116.3 L239.0,118.3 L237.0,119.3 L235.0,118.7Z"/>
<path class="lake" d="M169.3,230.7 L169.0,231.4 L168.3,231.7 L167.6,231.4 L167.3,230.7 L167.6,230.0 L168.3,229.7 L169.0,230.0Z"/>
<path class="lake" d="M171.7,229.7 L171.5,230.3 L170.8,230.6 L170.2,230.3 L169.9,229.7 L170.2,229.0 L170.8,228.8 L171.5,229.0Z"/>
<path class="lake" d="M175.2,229.7 L174.9,230.4 L174.2,230.7 L173.5,230.4 L173.2,229.7 L173.5,229.0 L174.2,228.7 L174.9,229.0Z"/>
<path class="lake" d="M178.4,228.3 L178.1,229.0 L177.5,229.2 L176.9,229.0 L176.6,228.3 L176.9,227.7 L177.5,227.4 L178.1,227.7Z"/>
<path class="lake" d="M181.8,228.3 L181.5,229.0 L180.8,229.3 L180.1,229.0 L179.8,228.3 L180.1,227.6 L180.8,227.3 L181.5,227.6Z"/>
<path class="lake" d="M186.0,227.0 L185.7,227.7 L185.0,228.0 L184.3,227.7 L184.0,227.0 L184.3,226.3 L185.0,226.0 L185.7,226.3Z"/>
<path class="lake" d="M189.6,226.7 L189.3,227.3 L188.7,227.6 L188.0,227.3 L187.8,226.7 L188.0,226.0 L188.7,225.8 L189.3,226.0Z"/>
<path class="lake" d="M193.5,225.3 L193.2,226.0 L192.5,226.3 L191.8,226.0 L191.5,225.3 L191.8,224.6 L192.5,224.3 L193.2,224.6Z"/>
<path class="lake" d="M197.2,224.7 L197.0,225.3 L196.3,225.6 L195.7,225.3 L195.4,224.7 L195.7,224.0 L196.3,223.8 L197.0,224.0Z"/>
<path class="lake" d="M165.7,226.7 L165.4,227.4 L164.7,227.7 L164.0,227.4 L163.7,226.7 L164.0,226.0 L164.7,225.7 L165.4,226.0Z"/>
<path class="lake" d="M167.2,223.0 L167.0,223.6 L166.3,223.9 L165.7,223.6 L165.4,223.0 L165.7,222.4 L166.3,222.1 L167.0,222.4Z"/>
<path class="lake" d="M200.9,222.7 L200.6,223.3 L200.0,223.6 L199.4,223.3 L199.1,222.7 L199.4,222.0 L200.0,221.8 L200.6,222.0Z"/>
</g>
</defs>
<rect x="85.5" y="31.5" width="381.4" height="381.3" fill="#ffe8bb"/>
<g clip-path="url(#clipL)">
<path d="M85.5,31.5 L105.8,31.5 L105.8,35.2 L103.7,38.5 L100.8,39.3 L98.3,37.7 L96.7,38.5 L98.0,41.0 L95.8,43.5 L91.7,43.0 L88.3,40.2 L85.5,38.5Z" fill="#fff" />
<path d="M115.8,31.5 L120.8,31.5 L120.8,34.7 L118.3,36.3 L116.3,34.7Z" fill="#fff" />
<path d="M298.3,213.3 L298.7,208.3 L300.8,204.7 L304.2,201.7 L308.3,200.3 L312.5,198.7 L315.0,195.8 L316.3,191.7 L317.0,186.7 L317.5,181.7 L318.0,175.8 L319.2,170.8 L320.8,165.8 L323.0,161.3 L325.8,157.5 L329.2,155.0 L333.3,153.3 L338.3,152.5 L343.3,153.0 L348.3,153.3 L353.3,153.0 L358.3,153.7 L363.3,154.2 L367.5,153.3 L370.0,151.7 L372.5,149.2 L375.8,146.7 L380.0,144.2 L385.0,142.5 L386.7,142.2 L391.1,140.6 L396.7,139.4 L402.2,138.9 L407.8,138.3 L413.3,137.8 L418.9,138.0 L424.4,138.7 L430.0,138.9 L435.6,139.4 L441.1,140.2 L446.7,141.1 L452.2,141.7 L457.8,141.1 L463.3,140.6 L468.9,140.2 L469.3,196.6 L465.6,198.5 L463.1,201.5 L461.3,205.2 L458.8,208.9 L455.8,211.3 L452.1,212.6 L448.4,212.9 L444.8,212.2 L441.7,212.6 L438.6,214.2 L435.6,216.2 L432.5,218.3 L429.4,219.9 L425.8,220.5 L422.1,220.3 L419.0,220.8 L416.3,222.4 L413.9,224.5 L411.9,227.3 L410.2,230.6 L409.0,233.4 L409.0,233.4 L405.7,235.6 L402.1,237.8 L397.6,240.3 L393.2,242.2 L388.8,241.5 L385.1,239.3 L381.5,237.1 L379.3,234.1 L377.1,231.2 L374.9,231.9 L374.1,234.9 L375.6,238.5 L377.1,242.2 L374.9,245.1 L371.9,248.1 L368.5,251.0 L365.3,254.0 L362.6,256.9 L360.9,260.6 L360.1,264.3 L358.7,267.2 L355.7,268.7 L352.1,269.4 L349.9,267.2 L348.4,264.3 L348.8,260.6 L349.9,256.9 L351.3,252.5 L352.8,248.1 L354.3,243.7 L356.5,239.3 L359.4,235.6 L363.1,231.9 L366.0,228.2 L369.0,224.6 L372.6,221.6 L376.3,218.7 L379.3,216.5 L380.7,215.0 L370.0,216.0 L355.0,217.0 L340.0,218.0 L325.0,218.0 L310.0,217.0 L300.0,215.0 L297.0,211.0Z" fill="#ddffcc" />
<path d="M389.8,168.0 L393.4,166.5 L395.2,168.9 L392.8,174.3 L389.8,179.6 L387.1,185.0 L384.9,190.4 L383.1,196.7 L381.3,203.0 L379.9,209.3 L379.5,217.4 L361.9,217.4 L364.6,210.2 L367.3,203.9 L370.0,197.6 L373.1,191.3 L376.3,185.0 L379.9,178.7 L383.9,173.0 L387.1,169.4Z" fill="#ffe8bb" />
<path d="M297.1,317.2 L301.6,311.2 L309.2,307.6 L313.7,302.2 L319.7,300.7 L324.2,294.6 L330.2,291.6 L336.2,288.6 L340.7,282.6 L345.2,279.6 L343.7,275.1 L348.2,275.1 L350.6,279.6 L348.8,285.6 L345.2,290.1 L340.7,294.6 L335.6,299.8 L330.2,305.2 L324.2,311.2 L319.7,317.2 L313.7,320.2 L309.2,326.2 L303.1,328.6 L298.6,326.2 L296.5,321.7Z" fill="#ddffcc" />
<path d="M276.7,338.8 L280.6,332.2 L286.6,329.2 L291.1,333.7 L286.6,338.8 L280.6,341.8Z" fill="#ddffcc" />
<path d="M85.5,81.0 L90.0,77.7 L95.0,75.7 L100.0,74.7 L104.2,76.0 L110.0,78.5 L115.8,74.7 L115.8,71.8 L114.7,66.8 L117.5,62.7 L122.5,61.0 L128.3,61.3 L132.5,63.5 L134.2,67.7 L135.0,71.0 L138.7,71.5 L140.0,74.0 L137.5,76.3 L133.7,76.0 L132.5,72.7 L128.7,75.7 L124.2,76.8 L122.5,81.0 L116.7,86.0 L112.5,86.8 L110.0,89.7 L105.8,91.8 L100.8,93.0 L95.0,92.7 L90.0,91.3 L85.5,89.3Z" fill="#ddffcc" />
<path d="M101.7,66.8 L101.4,67.7 L100.5,68.4 L99.3,68.8 L98.0,68.8 L96.8,68.4 L96.0,67.7 L95.7,66.8 L96.0,66.0 L96.8,65.3 L98.0,64.9 L99.3,64.9 L100.5,65.3 L101.4,66.0Z" fill="#ddffcc" />
<path d="M145.0,64.3 L147.5,61.8 L149.7,63.5 L149.7,75.2 L147.0,76.3 L144.7,72.7Z" fill="#ddffcc" />
<path d="M185.8,114.3 L185.3,115.9 L184.0,117.1 L182.2,117.8 L180.1,117.8 L178.3,117.1 L177.0,115.9 L176.6,114.3 L177.0,112.8 L178.3,111.5 L180.1,110.8 L182.2,110.8 L184.0,111.5 L185.3,112.8Z" fill="#ddffcc" />
<path d="M201.3,140.8 L200.8,142.3 L199.5,143.5 L197.7,144.1 L195.6,144.1 L193.8,143.5 L192.5,142.3 L192.1,140.8 L192.5,139.4 L193.8,138.2 L195.6,137.5 L197.7,137.5 L199.5,138.2 L200.8,139.4Z" fill="#ddffcc" />
<path d="M209.7,373.3 L209.2,375.3 L207.8,376.9 L205.8,377.8 L203.6,377.8 L201.5,376.9 L200.2,375.3 L199.7,373.3 L200.2,371.3 L201.5,369.7 L203.6,368.8 L205.8,368.8 L207.8,369.7 L209.2,371.3Z" fill="#ddffcc" />
<path d="M237.7,237.5 L240.0,236.8 L242.5,237.1 L245.0,237.9 L246.7,239.2 L248.3,240.8 L249.6,242.9 L250.0,245.4 L249.2,247.3 L247.7,247.5 L246.2,245.8 L245.0,243.8 L243.8,242.1 L241.7,241.2 L239.6,241.7 L238.2,240.4Z" fill="#ddffcc" />
<path d="M96.7,253.3 L100.0,252.5 L103.7,254.2 L105.3,257.0 L102.5,258.7 L99.2,257.5Z" fill="#ddffcc" />
<path d="M85.5,269.2 L88.3,270.0 L89.7,273.0 L87.0,275.0 L85.5,274.7Z" fill="#ddffcc" />
<path d="M378.3,94.3 L380.0,90.2 L385.0,87.3 L390.8,86.0 L396.7,87.3 L401.7,90.2 L405.0,94.3 L404.2,98.5 L400.0,101.0 L395.0,101.8 L390.0,101.0 L385.0,99.7 L380.8,97.7Z" fill="#ddffcc" />
<path d="M92.5,81.0 L95.0,78.5 L100.0,78.0 L104.2,79.3 L106.7,82.7 L106.3,86.8 L103.3,89.0 L98.3,89.3 L94.2,87.7Z" fill="#99ff99" />
<path d="M115.8,66.8 L118.3,63.5 L123.3,62.7 L128.7,64.0 L130.8,67.7 L129.2,72.3 L125.0,75.2 L120.0,74.7 L116.7,71.8Z" fill="#99ff99" />
<path d="M133.3,73.0 L135.8,71.8 L138.7,72.7 L138.3,74.7 L135.0,75.7Z" fill="#99ff99" />
<path d="M145.8,66.8 L148.0,65.7 L149.2,68.5 L148.0,71.8 L146.0,70.7Z" fill="#99ff99" />
<path d="M379.7,94.3 L381.7,91.3 L385.8,89.3 L390.8,89.0 L395.8,90.2 L400.0,92.7 L401.3,95.7 L399.2,98.0 L394.2,99.0 L389.2,99.3 L384.2,98.0 L380.8,96.8Z" fill="#99ff99" />
<path d="M372.3,152.3 L376.0,149.2 L380.9,147.1 L385.8,145.9 L390.7,145.1 L394.4,145.5 L395.0,147.1 L391.9,148.8 L387.6,150.4 L383.3,152.0 L379.7,154.1 L376.0,155.9 L373.5,156.5 L371.7,154.7Z" fill="#99ff99" />
<path d="M299.2,208.3 L300.8,205.0 L303.3,203.3 L305.0,205.0 L303.3,208.3 L300.8,210.3Z" fill="#99ff99" />
<path d="M346.6,197.6 L346.5,198.1 L346.2,198.5 L345.6,198.8 L345.1,198.8 L344.5,198.5 L344.2,198.1 L344.0,197.6 L344.2,197.1 L344.5,196.7 L345.1,196.4 L345.6,196.4 L346.2,196.7 L346.5,197.1Z" fill="#99ff99" />
<path d="M317.2,175.5 L318.1,170.6 L319.6,166.3 L322.1,162.1 L325.1,158.4 L328.8,155.7 L332.5,154.1 L336.8,153.7 L341.7,154.5 L346.6,155.0 L351.5,154.5 L355.8,155.0 L360.0,155.7 L363.7,155.3 L367.4,155.0 L369.9,156.5 L370.5,159.6 L369.6,163.3 L368.0,167.0 L366.2,170.0 L363.7,172.8 L361.0,174.9 L358.2,175.8 L355.1,176.5 L352.1,177.4 L349.0,178.6 L346.6,180.4 L344.1,182.9 L342.3,186.0 L340.4,188.4 L338.0,190.5 L335.3,192.1 L332.1,192.9 L329.4,193.9 L327.0,195.8 L323.9,197.6 L320.2,199.4 L316.5,200.7 L312.3,201.3 L308.6,200.7 L305.5,199.4 L303.7,197.6 L305.5,196.6 L309.2,197.4 L312.9,197.4 L316.5,196.4 L320.2,194.9 L323.3,192.9 L325.1,190.9 L323.3,188.4 L321.1,185.3 L319.4,182.3 L317.9,179.0Z" fill="#66ffff" stroke="#99ff99" stroke-width="2.4" stroke-linejoin="round"/>
<path d="M413.3,142.2 L416.7,141.1 L421.1,141.7 L425.6,142.8 L430.0,142.4 L434.4,143.1 L438.9,143.9 L443.3,145.6 L447.8,146.7 L452.2,146.9 L457.8,146.7 L463.3,146.1 L468.9,145.6 L469.3,189.3 L465.0,191.1 L461.9,193.6 L460.1,196.6 L458.2,200.3 L455.8,204.6 L453.3,207.7 L449.7,209.5 L445.4,210.1 L441.7,209.5 L438.6,210.7 L435.6,212.6 L432.5,215.0 L430.0,217.1 L426.4,217.8 L422.7,217.1 L419.0,217.8 L416.0,219.3 L413.1,221.5 L411.1,224.2 L409.0,227.3 L407.0,230.6 L405.5,233.4 L403.1,235.2 L399.4,236.2 L395.7,236.7 L392.7,235.9 L390.6,233.4 L389.4,229.7 L389.0,226.1 L390.2,222.4 L388.4,221.8 L384.7,223.0 L381.6,223.2 L379.6,221.2 L379.6,218.3 L381.6,216.2 L384.1,215.6 L385.9,217.1 L387.2,215.0 L387.8,211.3 L388.4,207.7 L387.2,204.6 L385.3,202.2 L384.5,199.1 L384.7,195.4 L386.7,195.6 L388.0,192.2 L389.8,188.9 L391.1,185.6 L392.2,182.2 L393.1,178.9 L393.9,175.6 L395.0,172.2 L396.7,169.1 L399.4,166.4 L402.2,164.2 L405.0,162.4 L407.8,161.1 L411.1,160.0 L414.4,159.1 L417.8,159.4 L421.1,159.1 L423.3,158.3 L422.8,156.1 L420.6,153.3 L418.3,150.6 L416.1,147.8 L414.4,145.0Z" fill="#66ffff" stroke="#99ff99" stroke-width="2.4" stroke-linejoin="round"/>
<path d="M428.9,166.7 L430.6,165.6 L433.3,165.8 L435.6,167.2 L436.1,168.9 L434.4,170.0 L431.7,169.8 L429.8,168.7Z" fill="#ddffcc" stroke="#99ff99" stroke-width="1.6" stroke-linejoin="round"/>
<path d="M436.7,177.2 L438.3,175.8 L441.7,175.6 L444.4,176.7 L445.0,178.9 L443.3,180.6 L440.0,180.9 L437.6,179.8Z" fill="#ddffcc" stroke="#99ff99" stroke-width="1.6" stroke-linejoin="round"/>
<path d="M418.3,181.1 L419.8,180.2 L421.3,180.9 L421.7,182.4 L420.2,183.3 L418.7,182.8Z" fill="#ddffcc" stroke="#99ff99" stroke-width="1.6" stroke-linejoin="round"/>
<path d="M407.2,185.0 L409.1,184.2 L411.1,184.7 L411.7,186.7 L410.0,187.8 L407.8,187.2Z" fill="#ddffcc" stroke="#99ff99" stroke-width="1.6" stroke-linejoin="round"/>
<path d="M432.2,190.9 L433.9,190.0 L435.6,190.6 L435.3,192.0 L433.3,192.2Z" fill="#ddffcc" stroke="#99ff99" stroke-width="1.6" stroke-linejoin="round"/>
<path d="M421.2,197.3 L422.5,195.0 L424.5,194.6 L426.1,196.0 L425.4,198.2 L423.3,199.5 L421.7,198.7Z" fill="#ddffcc" stroke="#99ff99" stroke-width="1.6" stroke-linejoin="round"/>
<path d="M445.6,184.4 L447.8,183.1 L450.6,183.9 L451.7,186.1 L450.0,188.3 L447.2,188.7 L445.6,186.9Z" fill="#99ff99" />
<path d="M381.3,94.3 L383.0,91.8 L386.7,90.7 L390.8,91.0 L394.2,92.7 L395.0,95.7 L392.5,97.7 L388.3,98.0 L384.2,97.3Z" fill="#66ffff" />
<path d="M116.3,68.5 L118.0,65.2 L122.5,64.0 L127.5,65.2 L128.7,69.0 L126.7,72.7 L122.5,74.3 L118.3,73.5Z" fill="#66ffff" />
<path d="M100.3,79.3 L102.5,78.0 L105.8,79.0 L106.3,81.3 L103.7,82.7 L100.8,81.8Z" fill="#66ffff" />
<path d="M318.4,175.5 L319.4,171.2 L320.8,167.2 L323.3,163.3 L326.0,159.9 L329.4,157.2 L333.1,155.3 L336.8,154.7 L341.7,155.3 L346.6,155.7 L351.5,155.3 L355.8,155.9 L360.0,156.9 L363.7,156.5 L366.8,156.5 L368.6,158.4 L368.9,161.4 L368.0,165.1 L366.2,168.8 L363.7,171.6 L361.0,173.7 L357.6,174.6 L354.5,175.3 L351.5,176.2 L348.4,177.4 L345.6,179.2 L343.1,181.9 L341.4,184.7 L339.5,187.2 L337.0,189.0 L334.3,190.5 L331.6,191.2 L329.2,190.2 L327.0,188.4 L324.5,186.0 L322.1,183.1 L320.2,180.2 L319.0,177.7Z" fill="#00c3ff" />
<path d="M420.2,143.9 L422.8,143.1 L426.7,144.4 L431.1,145.0 L435.6,145.6 L440.0,146.7 L444.4,148.3 L448.9,150.0 L453.3,151.1 L457.8,151.7 L462.2,152.2 L468.9,152.8 L468.9,183.3 L465.6,185.0 L462.8,186.1 L459.4,186.4 L456.7,185.6 L454.2,183.9 L452.8,181.7 L453.3,179.4 L455.6,178.0 L457.2,176.1 L456.7,173.9 L454.7,172.0 L451.7,170.2 L448.3,168.9 L445.0,168.0 L441.7,167.2 L438.3,166.1 L435.0,164.7 L432.0,163.1 L429.1,161.1 L426.7,158.9 L425.0,156.1 L423.6,152.8 L422.0,149.4 L420.6,146.7Z" fill="#00c3ff" />
<path d="M394.4,178.9 L395.0,175.0 L396.7,171.7 L398.9,168.9 L401.7,167.2 L405.0,166.4 L408.9,166.7 L412.8,167.2 L416.1,168.9 L418.3,171.1 L419.4,173.9 L418.3,176.7 L415.6,177.8 L412.2,178.0 L409.1,178.9 L406.7,180.6 L403.9,182.2 L400.6,183.3 L397.6,183.3 L395.3,181.7Z" fill="#00c3ff" />
<path d="M385.9,196.0 L386.5,192.4 L388.4,190.1 L390.8,190.5 L392.1,193.0 L393.9,194.8 L397.0,195.4 L400.0,196.3 L401.9,198.5 L401.2,200.9 L398.8,201.5 L396.0,200.3 L393.9,198.5 L391.4,197.9 L389.0,199.1 L387.2,198.5Z" fill="#00c3ff" />
<path d="M389.0,209.5 L389.6,207.1 L391.1,206.1 L392.3,207.7 L392.7,210.1 L391.4,212.0 L389.9,211.7Z" fill="#00c3ff" />
<path d="M397.6,213.8 L400.0,212.9 L402.5,214.4 L404.9,215.9 L408.0,215.6 L409.8,217.1 L409.5,219.9 L408.0,222.4 L406.2,224.8 L404.3,226.1 L402.1,225.4 L402.8,223.0 L401.2,220.5 L399.2,218.1 L397.6,216.2Z" fill="#00c3ff" />
<path d="M412.3,211.3 L414.7,210.1 L417.8,209.5 L420.9,208.3 L422.9,205.8 L424.9,203.4 L427.4,200.9 L429.4,198.5 L431.9,196.6 L434.7,196.3 L437.2,197.9 L438.6,199.7 L441.1,198.2 L444.1,197.3 L447.8,197.0 L450.3,197.9 L449.9,200.7 L448.2,203.4 L446.0,205.8 L443.5,207.3 L441.1,206.4 L439.2,204.0 L437.4,203.4 L435.6,205.2 L433.5,207.7 L431.3,210.1 L428.8,212.2 L425.8,213.8 L422.1,214.7 L418.4,215.0 L415.1,214.4 L412.9,213.2Z" fill="#00c3ff" />
<path d="M380.0,220.5 L380.8,218.3 L382.9,217.8 L384.7,219.1 L384.7,221.5 L382.9,222.4 L381.0,222.0Z" fill="#00c3ff" />
<path d="M389.4,227.3 L389.9,223.0 L391.8,220.3 L394.5,219.6 L397.2,220.8 L399.4,223.0 L401.6,225.4 L403.7,228.1 L404.3,231.3 L402.8,233.8 L400.0,235.0 L396.3,235.5 L393.3,235.0 L391.1,233.0 L389.6,230.3Z" fill="#00c3ff" />
<path d="M393.3,182.5 L393.9,186.8 L396.3,187.5 L398.8,186.2 L399.4,182.5Z" fill="#00c3ff" />
<path d="M454.6,183.8 L458.2,186.2 L463.1,186.8 L469.3,186.5 L469.3,183.8Z" fill="#00c3ff" />
<path d="M382.0,94.3 L383.7,92.3 L387.0,91.3 L390.8,91.8 L393.0,94.0 L391.7,96.8 L388.0,97.7 L384.2,97.0Z" fill="#00c3ff" />
<path d="M117.5,70.2 L119.2,68.5 L123.3,68.5 L124.2,71.0 L120.8,72.3 L118.3,71.8Z" fill="#00c3ff" />
<path d="M353.9,160.8 L356.4,159.4 L359.4,158.4 L362.5,157.8 L365.6,158.1 L367.4,160.2 L367.2,163.9 L365.9,167.2 L364.0,170.0 L361.5,172.1 L358.8,172.8 L357.0,171.2 L357.6,168.8 L356.6,166.3 L354.9,164.5 L353.7,162.7Z" fill="#0066ff" />
<path d="M425.0,148.3 L426.1,146.7 L428.9,145.8 L432.8,146.4 L436.7,147.2 L440.6,148.3 L444.4,150.0 L448.3,151.7 L452.2,152.8 L456.7,153.3 L461.1,154.2 L465.0,155.8 L468.9,157.2 L468.9,166.7 L466.1,168.3 L464.4,170.0 L463.1,172.8 L462.4,175.6 L461.1,177.2 L459.1,176.7 L457.8,174.4 L456.7,172.0 L454.4,170.2 L451.3,168.9 L448.0,167.8 L444.7,166.9 L441.3,165.8 L438.0,164.4 L435.0,163.1 L432.2,161.3 L429.8,159.4 L427.6,157.2 L426.1,154.4 L425.3,151.3Z" fill="#0066ff" />
<path d="M455.0,181.3 L456.4,179.8 L458.9,179.1 L461.7,179.8 L463.1,181.3 L462.2,183.1 L459.8,183.9 L457.2,183.6 L455.6,182.8Z" fill="#0066ff" />
<path d="M395.6,178.9 L396.1,175.6 L397.6,172.4 L399.8,169.8 L402.4,168.0 L405.6,167.6 L409.1,168.0 L412.8,168.7 L415.6,170.0 L417.6,172.0 L418.0,174.4 L416.7,176.4 L413.9,176.9 L410.9,176.7 L408.7,177.8 L406.7,179.4 L404.2,180.9 L401.1,182.0 L398.0,182.0 L396.1,180.9Z" fill="#0066ff" />
<path d="M388.7,193.3 L389.4,191.1 L390.9,190.9 L391.7,192.8 L390.9,194.4 L389.4,194.7Z" fill="#0066ff" />
<path d="M391.8,232.8 L392.7,229.4 L394.3,226.7 L396.3,225.2 L398.8,226.1 L400.4,228.1 L400.6,231.0 L399.2,233.0 L396.3,234.3 L393.5,234.6Z" fill="#0066ff" />
<path d="M383.0,94.0 L384.7,92.3 L388.0,92.0 L391.3,93.0 L392.0,95.2 L390.0,97.0 L386.3,97.3 L383.7,96.0Z" fill="#0066ff" />
<path d="M118.0,70.7 L119.2,69.3 L122.0,69.7 L120.8,71.3Z" fill="#0066ff" />
<path d="M320.2,175.5 L321.1,171.6 L322.7,167.9 L324.8,164.3 L327.6,161.1 L330.6,158.6 L334.3,157.2 L338.0,156.9 L342.3,157.2 L346.6,157.2 L350.2,156.9 L352.7,157.8 L353.9,160.2 L355.1,163.9 L356.6,166.7 L357.4,169.4 L356.4,171.9 L353.9,173.3 L350.9,174.3 L348.0,175.3 L345.3,176.8 L343.1,179.2 L341.4,182.3 L339.8,185.1 L337.7,187.5 L335.3,189.0 L332.5,189.6 L330.0,188.8 L327.9,186.8 L325.7,184.4 L323.5,181.7 L321.8,179.0Z" fill="#9966ff" />
<path d="M425.8,150.6 L426.7,148.0 L429.4,147.0 L433.1,147.6 L436.7,148.4 L440.6,149.6 L444.4,151.0 L448.3,152.7 L452.2,154.0 L456.7,155.3 L460.2,157.3 L462.4,160.2 L463.1,163.9 L462.8,168.3 L462.8,172.8 L462.0,175.6 L460.2,176.1 L458.7,174.2 L457.2,171.3 L456.1,170.2 L453.3,168.9 L450.2,167.8 L446.9,167.0 L443.6,166.1 L440.2,165.0 L437.2,163.7 L434.4,162.2 L431.3,160.3 L428.9,158.0 L427.2,155.3 L426.1,153.0Z" fill="#9966ff" />
<path d="M397.0,178.3 L397.6,174.4 L399.1,171.3 L401.7,168.9 L404.7,168.0 L407.2,168.9 L408.0,172.2 L410.0,171.1 L413.3,170.9 L415.3,172.2 L414.7,174.2 L412.2,174.7 L409.8,175.0 L407.6,176.1 L407.2,178.7 L405.3,180.2 L402.2,181.1 L399.4,180.8 L397.8,180.0Z" fill="#9966ff" />
<path d="M384.2,94.3 L385.8,92.7 L389.2,92.7 L391.3,94.3 L390.0,96.3 L386.7,96.8 L384.7,95.7Z" fill="#9966ff" />
<path d="M321.8,175.3 L322.7,171.9 L324.3,168.4 L326.3,165.1 L329.2,162.1 L332.1,159.9 L335.5,158.4 L339.2,158.1 L342.9,158.4 L346.3,158.4 L349.0,158.6 L350.9,160.2 L352.1,162.7 L351.5,165.1 L349.6,166.3 L348.0,167.6 L349.0,170.0 L348.4,172.1 L346.3,173.7 L344.4,175.5 L342.3,178.0 L340.7,181.1 L339.2,184.1 L337.4,186.6 L334.9,188.0 L332.5,188.4 L330.4,187.2 L328.4,185.3 L326.3,182.9 L324.5,180.2 L323.0,177.7Z" fill="#dd66ff" />
<path d="M426.4,150.6 L427.2,148.7 L429.4,147.8 L433.1,148.3 L436.7,149.1 L440.6,150.2 L444.4,151.7 L448.3,153.3 L452.2,154.7 L456.1,156.1 L459.4,158.0 L461.7,160.6 L462.4,163.9 L462.0,167.8 L460.6,170.9 L458.3,171.3 L456.1,169.8 L453.3,168.3 L450.2,167.2 L446.9,166.4 L443.6,165.6 L440.2,164.4 L437.2,163.1 L434.4,161.7 L431.7,159.8 L429.4,157.6 L427.8,155.0 L426.7,152.8Z" fill="#dd66ff" />
<path d="M397.8,177.8 L398.3,174.4 L399.8,171.7 L402.0,169.4 L404.7,168.7 L406.7,169.4 L407.2,172.2 L406.9,175.6 L406.7,178.3 L405.0,179.8 L402.2,180.6 L399.8,180.2 L398.3,179.4Z" fill="#dd66ff" />
<path d="M326.3,175.5 L327.2,172.1 L328.8,168.8 L330.6,165.5 L332.8,162.3 L335.3,160.2 L338.0,159.0 L340.4,159.4 L341.1,161.4 L340.2,164.5 L339.0,167.9 L337.4,171.2 L335.5,174.6 L333.7,177.4 L331.6,179.8 L329.7,181.4 L327.9,180.4 L326.7,178.2Z" fill="#ff00ff" />
<path d="M435.3,156.1 L436.4,153.9 L438.9,153.1 L442.2,153.6 L445.3,155.0 L447.2,157.2 L447.8,160.0 L446.7,162.4 L444.2,163.9 L441.1,163.6 L438.3,162.0 L436.4,159.4Z" fill="#ff00ff" />
<line class="grid" x1="149.46" y1="31.5" x2="149.46" y2="414.5"/><line class="grid" x1="213.22" y1="31.5" x2="213.22" y2="414.5"/><line class="grid" x1="276.98" y1="31.5" x2="276.98" y2="414.5"/><line class="grid" x1="340.73" y1="31.5" x2="340.73" y2="414.5"/><line class="grid" x1="404.49" y1="31.5" x2="404.49" y2="414.5"/><line class="grid" x1="85.5" y1="94.45" x2="468.5" y2="94.45"/><line class="grid" x1="85.5" y1="158.22" x2="468.5" y2="158.22"/><line class="grid" x1="85.5" y1="221.98" x2="468.5" y2="221.98"/><line class="grid" x1="85.5" y1="285.75" x2="468.5" y2="285.75"/><line class="grid" x1="85.5" y1="349.51" x2="468.5" y2="349.51"/>
<use href="#coast"/>
</g>
<rect class="frame" x="85.5" y="31.5" width="383.0" height="383.0"/>
<rect x="555.5" y="31.5" width="383.0" height="383.0" fill="#fff"/>
<g clip-path="url(#clipR)">
<path d="M779.2,148.3 L781.7,145.0 L783.3,141.7 L782.5,136.7 L782.5,131.7 L783.3,126.7 L785.0,121.7 L785.8,116.7 L786.3,111.7 L786.7,106.7 L789.2,102.5 L793.3,99.2 L798.3,96.7 L802.5,94.2 L805.8,92.5 L810.0,91.3 L816.7,90.0 L823.3,89.7 L830.0,89.2 L836.7,88.7 L840.0,90.0 L845.0,91.7 L851.7,92.5 L858.3,93.0 L865.0,92.5 L871.7,93.0 L878.3,94.2 L885.0,95.8 L891.7,98.3 L896.7,101.7 L900.8,105.8 L903.7,110.0 L904.7,115.0 L904.2,120.0 L902.5,125.0 L901.7,130.0 L900.8,135.0 L898.3,138.3 L895.0,141.7 L890.0,144.2 L885.0,146.3 L880.0,147.5 L875.0,148.0 L870.0,147.5 L865.0,148.3 L860.0,149.2 L855.0,150.3 L850.8,152.5 L847.5,155.0 L845.8,158.3 L846.7,161.7 L850.0,165.0 L853.3,168.3 L855.8,172.5 L856.7,177.5 L855.8,182.5 L854.2,187.0 L853.3,185.0 L850.8,190.0 L848.3,194.2 L845.8,198.3 L843.7,203.3 L843.0,208.3 L843.3,213.3 L842.5,218.3 L840.8,223.3 L836.7,228.3 L831.7,232.5 L826.7,235.8 L821.7,239.2 L816.7,242.5 L813.3,245.8 L810.0,249.2 L806.7,252.0 L801.2,250.4 L792.0,252.9 L782.9,255.9 L775.5,259.5 L766.4,263.2 L759.1,267.6 L749.9,269.8 L740.8,271.2 L731.6,272.3 L727.2,274.9 L727.2,281.5 L724.3,288.8 L717.0,294.3 L709.7,297.9 L706.8,304.2 L706.0,312.6 L702.4,319.9 L696.9,325.4 L689.6,329.0 L684.8,334.5 L682.2,341.8 L676.0,347.3 L667.6,350.3 L658.5,351.7 L649.3,353.9 L642.0,356.5 L637.2,362.0 L635.8,370.0 L631.0,376.6 L623.7,381.0 L614.5,383.2 L605.4,383.2 L596.2,381.0 L588.2,377.3 L582.3,371.1 L578.7,363.8 L577.2,354.7 L578.7,345.5 L582.3,338.2 L588.9,333.4 L598.1,330.9 L607.2,329.8 L616.4,330.9 L623.7,329.8 L631.0,326.1 L638.3,322.5 L643.1,316.2 L644.5,307.1 L645.6,297.9 L649.3,293.2 L654.8,289.5 L662.1,285.9 L665.8,279.6 L665.0,270.5 L662.1,263.2 L656.6,255.9 L654.8,244.9 L655.5,233.9 L660.3,226.6 L667.6,221.1 L674.9,217.4 L682.2,213.8 L689.6,208.3 L692.1,201.0 L695.0,194.4 L700.5,190.0 L700.0,188.0 L710.0,187.5 L720.0,185.8 L730.0,183.3 L738.3,182.5 L743.3,180.8 L750.0,179.2 L756.7,177.5 L761.7,175.0 L765.0,171.7 L767.5,168.3 L771.7,165.8 L775.0,162.5 L776.7,159.2 L777.5,155.8 L780.0,152.5 L783.3,150.0Z" fill="#ffe8bb" />
<path d="M690.8,200.0 L693.3,193.3 L698.3,189.7 L705.0,188.0 L710.0,188.7 L715.0,190.8 L720.0,192.5 L725.0,193.7 L730.0,195.3 L734.2,198.3 L736.7,202.5 L737.5,207.5 L740.0,212.0 L745.0,211.3 L750.0,212.0 L754.2,210.8 L756.7,208.3 L758.3,213.3 L755.0,215.8 L750.0,215.3 L743.3,214.7 L737.0,215.3 L733.3,217.5 L726.7,220.0 L718.3,220.0 L710.0,222.5 L703.3,225.0 L696.7,223.3 L691.7,216.7 L690.3,208.3Z" fill="#ddffcc" />
<path d="M783.3,151.7 L778.3,156.7 L775.8,161.7 L773.3,166.7 L770.0,170.0 L766.7,173.3 L765.8,177.5 L766.7,181.7 L765.0,185.0 L762.5,188.3 L760.0,192.5 L758.3,196.7 L757.5,200.8 L758.3,205.0 L756.7,208.3 L756.7,211.7 L757.5,215.8 L759.2,219.2 L761.7,221.7 L764.2,222.5 L766.7,220.0 L770.0,218.3 L773.3,216.7 L776.7,215.8 L780.0,216.7 L783.3,218.3 L786.7,220.0 L790.0,220.8 L792.5,219.2 L794.2,216.7 L796.7,215.8 L800.0,217.5 L803.3,220.0 L807.5,220.8 L811.3,219.7 L815.0,217.5 L819.2,215.3 L822.5,213.3 L824.7,210.3 L825.8,206.7 L826.7,202.5 L827.5,198.3 L829.2,194.2 L831.7,190.8 L835.0,187.5 L838.3,183.3 L841.7,179.2 L845.0,175.0 L848.0,170.0 L850.0,165.0 L850.8,160.0 L849.2,155.0 L846.7,150.0 L850.8,152.5 L855.0,150.3 L860.0,149.2 L865.0,148.3 L870.0,147.5 L875.0,148.0 L880.0,147.5 L885.0,146.3 L890.0,144.2 L895.0,141.7 L898.3,138.3 L900.8,135.0 L901.7,130.0 L902.5,125.0 L904.2,121.7 L901.7,119.2 L896.7,117.5 L891.7,118.3 L886.7,119.2 L881.7,120.8 L876.7,122.5 L873.3,120.8 L868.3,120.0 L863.3,118.3 L858.3,115.8 L855.8,113.3 L857.5,110.0 L860.0,106.7 L861.7,103.3 L858.3,100.8 L853.3,100.0 L848.3,101.7 L843.3,105.0 L838.3,107.5 L833.3,110.0 L828.3,113.3 L824.2,116.3 L815.0,116.7 L811.7,117.5 L807.5,118.3 L804.2,120.8 L802.5,125.0 L801.7,130.0 L800.8,135.0 L797.5,139.2 L794.2,143.3 L791.7,148.3Z" fill="#ddffcc" />
<path d="M682.2,239.4 L687.7,235.7 L696.9,236.8 L702.4,241.2 L700.5,247.8 L693.2,250.4 L685.9,248.5Z" fill="#ddffcc" />
<path d="M696.7,221.7 L715.6,216.1 L737.8,213.9 L746.7,215.0 L744.4,219.4 L737.8,221.7 L731.1,223.3 L722.2,225.0 L715.6,227.2 L712.2,231.7 L710.0,236.1 L708.9,240.6 L706.7,243.3 L702.2,244.1 L696.7,242.8 L692.2,245.0 L690.0,248.3 L686.7,247.2 L683.3,243.9 L682.2,240.6 L686.7,237.2 L692.2,235.0 L693.3,231.7 L695.6,227.2Z" fill="#ddffcc" />
<path d="M790.5,248.5 L790.1,249.5 L789.0,250.3 L787.4,250.7 L785.6,250.7 L784.0,250.3 L782.9,249.5 L782.5,248.5 L782.9,247.6 L784.0,246.8 L785.6,246.4 L787.4,246.4 L789.0,246.8 L790.1,247.6Z" fill="#ddffcc" />
<path d="M680.2,307.1 L679.9,308.0 L678.9,308.8 L677.5,309.2 L676.0,309.2 L674.6,308.8 L673.6,308.0 L673.2,307.1 L673.6,306.1 L674.6,305.4 L676.0,304.9 L677.5,304.9 L678.9,305.4 L679.9,306.1Z" fill="#ddffcc" />
<path d="M831.7,135.0 L836.7,132.5 L843.3,131.7 L850.0,132.5 L856.7,133.3 L863.3,132.5 L870.0,131.7 L876.7,132.5 L883.3,131.7 L890.0,130.8 L896.7,130.0 L901.7,131.7 L900.8,135.0 L898.3,138.3 L893.3,141.7 L888.3,143.7 L883.3,145.3 L876.7,146.7 L870.0,146.3 L863.3,147.0 L856.7,148.0 L851.7,149.7 L848.3,151.7 L845.0,155.0 L843.3,159.2 L845.0,162.5 L848.3,165.0 L846.7,167.5 L842.5,166.7 L838.3,165.0 L835.0,162.5 L833.3,158.3 L831.7,153.3 L830.8,148.3 L830.0,143.3 L830.3,138.3Z" fill="#99ff99" />
<path d="M822.5,176.7 L826.7,175.0 L831.7,173.3 L835.0,170.0 L837.5,165.8 L840.0,161.7 L841.7,158.3 L844.2,160.0 L843.3,165.0 L840.8,170.0 L837.5,175.0 L833.3,179.2 L830.0,182.5 L826.7,185.0 L823.3,187.5 L820.3,189.2 L819.2,185.8 L820.0,181.7 L821.3,178.7Z" fill="#99ff99" />
<path d="M793.3,215.8 L796.7,215.0 L800.0,216.7 L798.3,218.7 L795.0,218.3Z" fill="#99ff99" />
<path d="M779.7,180.8 L781.3,175.0 L783.8,170.0 L787.2,165.8 L791.3,161.7 L796.3,158.0 L801.3,155.5 L806.7,153.7 L806.7,156.7 L801.7,158.3 L797.5,160.8 L793.3,165.0 L790.8,169.2 L792.5,172.5 L798.3,174.2 L801.7,176.7 L800.0,180.8 L796.7,185.8 L791.7,190.0 L786.7,193.3 L780.0,195.8 L775.0,197.5 L773.3,200.0 L770.8,197.5 L773.3,194.7 L778.3,192.5 L782.5,189.2 L783.3,185.0Z" fill="#99ff99" />
<path d="M774.2,198.3 L776.7,196.7 L780.8,195.3 L785.0,193.7 L789.2,191.7 L792.5,189.7 L795.8,187.0 L798.3,184.2 L800.8,181.3 L802.5,178.3 L801.7,175.0 L798.3,173.3 L794.2,172.5 L790.8,170.8 L790.0,167.5 L791.7,164.2 L794.7,161.3 L798.3,158.7 L802.5,156.7 L806.7,155.0 L807.5,151.7 L813.3,149.2 L818.3,147.5 L824.2,146.7 L830.0,148.3 L832.5,150.0 L833.3,145.8 L832.5,142.5 L833.3,140.0 L838.3,137.5 L843.3,135.8 L850.0,135.0 L856.7,134.7 L863.3,135.0 L870.0,135.8 L876.7,135.0 L881.7,136.7 L886.7,135.8 L891.7,136.7 L893.3,139.2 L890.0,141.3 L885.0,142.5 L880.0,143.3 L875.0,143.7 L870.0,143.3 L865.0,144.2 L860.0,145.3 L855.0,147.0 L850.8,149.2 L847.5,151.7 L845.0,155.0 L842.5,158.3 L840.8,160.8 L839.2,162.0 L835.8,165.8 L834.2,170.0 L831.7,173.7 L827.5,175.8 L823.3,177.0 L820.8,179.2 L819.2,182.5 L817.5,185.8 L815.0,188.3 L811.7,190.0 L808.3,190.8 L805.0,190.0 L802.5,188.0 L800.0,190.0 L798.7,193.7 L796.7,196.7 L792.5,198.3 L787.5,198.7 L782.5,199.7 L778.3,200.8 L775.0,200.3Z" fill="#66ffff" stroke="#99ff99" stroke-width="2.0" stroke-linejoin="round"/>
<path d="M700.8,194.2 L702.5,190.8 L705.8,189.7 L709.2,190.3 L711.3,193.0 L710.8,196.7 L708.3,199.2 L705.0,199.7 L702.0,198.0Z" fill="#66ffff" stroke="#99ff99" stroke-width="2.0" stroke-linejoin="round"/>
<path d="M835.8,142.5 L840.0,140.0 L845.0,138.3 L850.8,137.0 L856.7,136.7 L861.7,137.5 L866.7,138.0 L870.8,138.7 L870.0,141.3 L865.8,142.5 L860.8,143.3 L855.8,144.7 L851.3,146.7 L847.5,149.2 L844.2,151.7 L840.8,153.0 L837.5,151.7 L836.3,148.3 L836.7,145.0Z" fill="#00c3ff" />
<path d="M880.8,139.2 L884.2,138.3 L887.5,139.7 L885.8,141.7 L882.5,142.0Z" fill="#00c3ff" />
<path d="M794.2,163.3 L798.3,160.0 L802.5,159.2 L805.8,160.8 L805.0,164.2 L801.7,166.7 L797.5,167.5 L794.7,166.3Z" fill="#00c3ff" />
<path d="M804.2,155.0 L808.3,152.5 L813.3,150.8 L818.3,149.2 L823.3,148.7 L828.3,150.8 L832.0,155.0 L834.2,160.0 L835.0,165.0 L833.3,170.0 L831.7,173.3 L828.3,175.0 L824.2,175.3 L820.3,174.2 L818.0,171.7 L817.5,167.5 L816.7,164.2 L815.0,161.7 L811.7,160.3 L808.3,159.7 L806.7,158.3Z" fill="#00c3ff" />
<path d="M793.3,163.3 L796.7,160.3 L800.8,159.2 L804.2,160.3 L806.7,162.5 L805.0,165.0 L801.7,166.3 L798.3,167.0 L795.0,166.3Z" fill="#00c3ff" />
<path d="M788.3,177.5 L790.0,175.0 L791.3,176.7 L790.3,179.7Z" fill="#00c3ff" />
<path d="M786.7,194.7 L790.0,192.5 L794.2,190.8 L797.5,191.3 L799.2,193.7 L797.5,195.8 L793.3,196.7 L789.2,197.0Z" fill="#00c3ff" />
<path d="M838.3,156.7 L841.7,153.3 L845.8,151.7 L846.7,155.0 L843.7,158.3 L840.0,159.7Z" fill="#00c3ff" />
<path d="M837.5,145.8 L840.8,143.0 L845.0,140.8 L850.0,139.2 L855.0,138.3 L859.7,138.7 L862.0,140.3 L860.0,142.5 L855.8,143.7 L851.3,145.3 L847.0,147.5 L843.3,149.7 L840.0,150.3 L838.0,148.7Z" fill="#0066ff" />
<path d="M816.7,163.3 L819.2,160.8 L822.5,159.7 L826.7,160.8 L830.0,163.3 L832.0,167.5 L831.7,171.7 L829.7,175.0 L826.7,177.0 L823.3,178.0 L820.3,176.3 L818.7,173.3 L817.5,169.2 L816.7,165.8Z" fill="#0066ff" />
<path d="M830.8,158.3 L833.3,157.5 L834.2,160.0 L832.0,160.8Z" fill="#0066ff" />
<path d="M841.7,155.8 L844.2,155.3 L844.7,157.5 L842.5,158.0Z" fill="#0066ff" />
<path d="M703.0,193.7 L704.7,191.7 L707.5,191.7 L709.2,193.7 L708.3,196.3 L705.8,197.5 L703.7,196.3Z" fill="#0066ff" />
<path d="M838.3,146.7 L841.3,144.2 L845.3,142.0 L850.0,140.3 L854.2,139.7 L857.5,140.0 L858.7,141.7 L856.3,143.3 L852.0,144.7 L847.5,146.3 L843.3,148.3 L840.3,149.2 L838.7,148.3Z" fill="#9966ff" />
<path d="M821.3,168.3 L823.0,165.8 L825.8,165.0 L828.7,166.7 L830.0,169.2 L828.3,171.7 L825.3,173.0 L822.5,172.5 L821.3,170.8Z" fill="#9966ff" />
<path d="M850.8,141.3 L854.2,140.3 L856.7,140.8 L855.8,142.5 L852.5,143.0Z" fill="#dd66ff" />
<line class="grid" x1="618.50" y1="31.5" x2="618.50" y2="414.5"/><line class="grid" x1="682.30" y1="31.5" x2="682.30" y2="414.5"/><line class="grid" x1="746.10" y1="31.5" x2="746.10" y2="414.5"/><line class="grid" x1="809.90" y1="31.5" x2="809.90" y2="414.5"/><line class="grid" x1="873.70" y1="31.5" x2="873.70" y2="414.5"/><line class="grid" x1="555.5" y1="94.45" x2="938.5" y2="94.45"/><line class="grid" x1="555.5" y1="158.22" x2="938.5" y2="158.22"/><line class="grid" x1="555.5" y1="221.98" x2="938.5" y2="221.98"/><line class="grid" x1="555.5" y1="285.75" x2="938.5" y2="285.75"/><line class="grid" x1="555.5" y1="349.51" x2="938.5" y2="349.51"/>
<use href="#coast" transform="translate(469.2,0)"/>
</g>
<rect class="frame" x="555.5" y="31.5" width="383.0" height="383.0"/>
<text class="t10" x="561.3" y="407.0">Provided by JWA/JMA</text>
<rect x="810.5" y="271.5" width="105.0" height="104.0" fill="#fff"/>
<line x1="810.5" y1="375.5" x2="915.5" y2="271.5" stroke="#000" stroke-width="1"/>
<path d="M815.2,306.4h4.8M817.6,304.0v4.8M813.2,309.7h4.8M815.6,307.3v4.8M818.2,313.5h4.8M820.6,311.1v4.8M814.5,317.1h4.8M816.9,314.7v4.8M821.2,319.8h4.8M823.6,317.4v4.8M818.2,320.7h4.8M820.6,318.3v4.8M812.9,323.8h4.8M815.3,321.4v4.8M811.8,325.2h4.8M814.2,322.8v4.8M818.5,325.2h4.8M820.9,322.8v4.8M822.5,326.5h4.8M824.9,324.1v4.8M812.5,327.5h4.8M814.9,325.1v4.8M817.2,329.2h4.8M819.6,326.8v4.8M816.1,331.5h4.8M818.5,329.1v4.8M820.5,335.2h4.8M822.9,332.8v4.8M811.2,335.9h4.8M813.6,333.5v4.8M820.5,337.3h4.8M822.9,334.9v4.8M813.2,338.6h4.8M815.6,336.2v4.8M810.2,339.5h4.8M812.6,337.1v4.8M820.5,339.5h4.8M822.9,337.1v4.8M814.5,341.3h4.8M816.9,338.9v4.8M817.2,342.6h4.8M819.6,340.2v4.8M819.2,344.6h4.8M821.6,342.2v4.8M811.2,345.3h4.8M813.6,342.9v4.8M815.8,346.0h4.8M818.2,343.6v4.8M819.8,348.0h4.8M822.2,345.6v4.8M811.8,349.3h4.8M814.2,346.9v4.8M813.8,350.0h4.8M816.2,347.6v4.8M817.2,350.0h4.8M819.6,347.6v4.8M810.5,351.3h4.8M812.9,348.9v4.8M819.2,352.0h4.8M821.6,349.6v4.8M827.2,353.4h4.8M829.6,351.0v4.8M814.5,354.0h4.8M816.9,351.6v4.8M811.8,354.7h4.8M814.2,352.3v4.8M817.2,354.7h4.8M819.6,352.3v4.8M820.5,354.7h4.8M822.9,352.3v4.8M823.8,355.4h4.8M826.2,353.0v4.8M827.2,356.0h4.8M829.6,353.6v4.8M812.5,356.7h4.8M814.9,354.3v4.8M815.8,357.4h4.8M818.2,355.0v4.8M818.5,357.4h4.8M820.9,355.0v4.8M828.5,358.3h4.8M830.9,355.9v4.8M828.5,360.5h4.8M830.9,358.1v4.8M811.2,359.4h4.8M813.6,357.0v4.8M813.8,360.1h4.8M816.2,357.7v4.8M821.2,359.4h4.8M823.6,357.0v4.8M817.2,360.7h4.8M819.6,358.3v4.8M825.2,361.4h4.8M827.6,359.0v4.8M822.5,372.8h4.8M824.9,370.4v4.8M824.5,373.9h4.8M826.9,371.5v4.8M825.8,374.2h4.8M828.2,371.8v4.8M829.2,374.4h4.8M831.6,372.0v4.8M823.2,363.4h4.8M825.6,361.0v4.8M823.8,366.1h4.8M826.2,363.7v4.8M821.8,368.8h4.8M824.2,366.4v4.8M809.7,371.7h4.8M812.1,369.3v4.8M809.5,373.1h4.8M811.9,370.7v4.8M813.2,373.8h4.8M815.6,371.4v4.8M814.1,372.3h4.8M816.5,369.9v4.8M813.8,373.5h4.8M816.2,371.1v4.8M810.4,374.0h4.8M812.8,371.6v4.8M817.1,369.2h4.8M819.5,366.8v4.8M811.0,371.8h4.8M813.4,369.4v4.8M817.2,363.0h4.8M819.6,360.6v4.8M813.0,372.0h4.8M815.4,369.6v4.8M809.9,375.0h4.8M812.3,372.6v4.8M811.0,370.8h4.8M813.4,368.4v4.8M809.9,372.5h4.8M812.3,370.1v4.8M811.8,363.1h4.8M814.2,360.7v4.8M811.2,366.8h4.8M813.6,364.4v4.8M811.6,370.1h4.8M814.0,367.7v4.8M810.1,374.5h4.8M812.5,372.1v4.8M811.6,373.5h4.8M814.0,371.1v4.8M810.7,368.5h4.8M813.1,366.1v4.8M811.0,366.7h4.8M813.4,364.3v4.8M812.6,373.6h4.8M815.0,371.2v4.8M810.5,364.8h4.8M812.9,362.4v4.8M808.6,366.1h4.8M811.0,363.7v4.8M818.9,373.0h4.8M821.3,370.6v4.8M808.9,369.5h4.8M811.3,367.1v4.8M810.9,374.9h4.8M813.3,372.5v4.8M816.0,369.4h4.8M818.4,367.0v4.8M811.8,368.6h4.8M814.2,366.2v4.8M815.9,372.7h4.8M818.3,370.3v4.8M808.9,366.1h4.8M811.3,363.7v4.8M811.5,371.0h4.8M813.9,368.6v4.8M810.7,366.3h4.8M813.1,363.9v4.8M813.4,371.5h4.8M815.8,369.1v4.8M815.1,360.9h4.8M817.5,358.5v4.8M816.0,373.6h4.8M818.4,371.2v4.8M815.9,371.2h4.8M818.3,368.8v4.8M810.2,370.1h4.8M812.6,367.7v4.8M814.2,368.4h4.8M816.6,366.0v4.8M814.1,374.2h4.8M816.5,371.8v4.8M809.6,372.2h4.8M812.0,369.8v4.8M816.7,370.9h4.8M819.1,368.5v4.8M811.0,371.4h4.8M813.4,369.0v4.8M816.5,366.2h4.8M818.9,363.8v4.8M813.3,371.5h4.8M815.7,369.1v4.8M818.7,370.8h4.8M821.1,368.4v4.8M812.7,362.5h4.8M815.1,360.1v4.8M809.3,368.1h4.8M811.7,365.7v4.8M815.2,363.9h4.8M817.6,361.5v4.8M811.2,374.2h4.8M813.6,371.8v4.8M810.0,370.7h4.8M812.4,368.3v4.8M808.9,367.2h4.8M811.3,364.8v4.8M811.8,372.4h4.8M814.2,370.0v4.8M813.8,375.1h4.8M816.2,372.7v4.8M812.9,368.6h4.8M815.3,366.2v4.8M816.0,372.1h4.8M818.4,369.7v4.8M815.6,374.3h4.8M818.0,371.9v4.8M809.1,373.2h4.8M811.5,370.8v4.8M815.7,368.0h4.8M818.1,365.6v4.8M814.9,366.3h4.8M817.3,363.9v4.8M812.4,370.8h4.8M814.8,368.4v4.8M814.2,369.2h4.8M816.6,366.8v4.8M810.1,374.3h4.8M812.5,371.9v4.8M809.1,371.2h4.8M811.5,368.8v4.8M809.2,373.3h4.8M811.6,370.9v4.8M811.3,375.3h4.8M813.7,372.9v4.8M812.3,371.3h4.8M814.7,368.9v4.8M818.9,373.0h4.8M821.3,370.6v4.8M810.6,372.7h4.8M813.0,370.3v4.8M808.4,368.8h4.8M810.8,366.4v4.8M810.1,372.6h4.8M812.5,370.2v4.8M814.2,373.6h4.8M816.6,371.2v4.8M810.4,373.6h4.8M812.8,371.2v4.8M810.6,370.7h4.8M813.0,368.3v4.8M809.8,371.6h4.8M812.2,369.2v4.8M821.1,372.8h4.8M823.5,370.4v4.8M811.2,374.6h4.8M813.6,372.2v4.8M809.5,374.8h4.8M811.9,372.4v4.8M822.6,371.8h4.8M825.0,369.4v4.8M813.6,367.0h4.8M816.0,364.6v4.8M808.7,368.5h4.8M811.1,366.1v4.8M812.8,364.7h4.8M815.2,362.3v4.8M817.2,372.8h4.8M819.6,370.4v4.8M810.1,370.9h4.8M812.5,368.5v4.8M814.0,365.1h4.8M816.4,362.7v4.8M811.9,364.7h4.8M814.3,362.3v4.8M809.2,366.8h4.8M811.6,364.4v4.8M809.1,373.9h4.8M811.5,371.5v4.8M812.5,374.3h4.8M814.9,371.9v4.8M808.8,364.4h4.8M811.2,362.0v4.8M813.8,373.2h4.8M816.2,370.8v4.8M822.7,367.2h4.8M825.1,364.8v4.8M813.1,373.4h4.8M815.5,371.0v4.8M809.0,370.3h4.8M811.4,367.9v4.8M809.5,370.8h4.8M811.9,368.4v4.8M816.3,364.6h4.8M818.7,362.2v4.8M811.5,368.5h4.8M813.9,366.1v4.8M813.7,364.9h4.8M816.1,362.5v4.8M815.0,370.0h4.8M817.4,367.6v4.8M816.0,368.7h4.8M818.4,366.3v4.8M808.3,367.2h4.8M810.7,364.8v4.8M812.3,364.1h4.8M814.7,361.7v4.8M813.0,364.3h4.8M815.4,361.9v4.8M813.5,374.0h4.8M815.9,371.6v4.8M818.7,365.3h4.8M821.1,362.9v4.8M808.8,371.0h4.8M811.2,368.6v4.8M810.4,372.4h4.8M812.8,370.0v4.8M816.2,368.1h4.8M818.6,365.7v4.8M814.3,364.8h4.8M816.7,362.4v4.8M815.9,374.0h4.8M818.3,371.6v4.8M812.2,368.1h4.8M814.6,365.7v4.8M808.9,374.4h4.8M811.3,372.0v4.8M815.8,373.4h4.8M818.2,371.0v4.8M820.4,372.6h4.8M822.8,370.2v4.8M818.0,369.5h4.8M820.4,367.1v4.8M810.0,371.0h4.8M812.4,368.6v4.8M808.4,369.4h4.8M810.8,367.0v4.8M808.7,365.9h4.8M811.1,363.5v4.8M808.6,367.9h4.8M811.0,365.5v4.8M816.1,363.9h4.8M818.5,361.5v4.8M811.8,369.1h4.8M814.2,366.7v4.8M818.2,367.6h4.8M820.6,365.2v4.8M818.6,367.7h4.8M821.0,365.3v4.8M814.8,375.2h4.8M817.2,372.8v4.8M809.3,375.1h4.8M811.7,372.7v4.8M811.4,373.6h4.8M813.8,371.2v4.8M817.7,375.0h4.8M820.1,372.6v4.8M811.1,368.2h4.8M813.5,365.8v4.8M809.3,366.4h4.8M811.7,364.0v4.8M811.2,367.7h4.8M813.6,365.3v4.8M817.0,371.1h4.8M819.4,368.7v4.8M813.6,369.7h4.8M816.0,367.3v4.8M808.3,369.6h4.8M810.7,367.2v4.8M809.2,367.0h4.8M811.6,364.6v4.8M816.5,370.8h4.8M818.9,368.4v4.8M813.2,371.3h4.8M815.6,368.9v4.8M813.0,369.8h4.8M815.4,367.4v4.8M816.4,374.5h4.8M818.8,372.1v4.8M814.5,372.7h4.8M816.9,370.3v4.8M820.7,373.0h4.8M823.1,370.6v4.8M811.7,361.6h4.8M814.1,359.2v4.8M812.1,373.3h4.8M814.5,370.9v4.8M820.0,369.1h4.8M822.4,366.7v4.8M809.8,372.0h4.8M812.2,369.6v4.8M812.4,370.0h4.8M814.8,367.6v4.8M811.8,373.0h4.8M814.2,370.6v4.8M815.3,370.6h4.8M817.7,368.2v4.8M810.7,360.6h4.8M813.1,358.2v4.8" stroke="#000" stroke-width="0.85" fill="none"/>
<rect class="thin" x="810.5" y="271.5" width="105.0" height="104.0" style="stroke-width:1"/>
<path d="M810.50,375.5v4.0M810.5,375.50h-4.0M814.70,375.5v2.3M810.5,371.34h-2.3M818.90,375.5v2.3M810.5,367.18h-2.3M823.10,375.5v2.3M810.5,363.02h-2.3M827.30,375.5v2.3M810.5,358.86h-2.3M831.50,375.5v4.0M810.5,354.70h-4.0M835.70,375.5v2.3M810.5,350.54h-2.3M839.90,375.5v2.3M810.5,346.38h-2.3M844.10,375.5v2.3M810.5,342.22h-2.3M848.30,375.5v2.3M810.5,338.06h-2.3M852.50,375.5v4.0M810.5,333.90h-4.0M856.70,375.5v2.3M810.5,329.74h-2.3M860.90,375.5v2.3M810.5,325.58h-2.3M865.10,375.5v2.3M810.5,321.42h-2.3M869.30,375.5v2.3M810.5,317.26h-2.3M873.50,375.5v4.0M810.5,313.10h-4.0M877.70,375.5v2.3M810.5,308.94h-2.3M881.90,375.5v2.3M810.5,304.78h-2.3M886.10,375.5v2.3M810.5,300.62h-2.3M890.30,375.5v2.3M810.5,296.46h-2.3M894.50,375.5v4.0M810.5,292.30h-4.0M898.70,375.5v2.3M810.5,288.14h-2.3M902.90,375.5v2.3M810.5,283.98h-2.3M907.10,375.5v2.3M810.5,279.82h-2.3M911.30,375.5v2.3M810.5,275.66h-2.3M915.50,375.5v4.0M810.5,271.50h-4.0" stroke="#000" stroke-width="0.8" fill="none"/>
<text class="tk" x="810.5" y="389.2" text-anchor="middle" textLength="4.7" lengthAdjust="spacingAndGlyphs">0</text>
<text class="tk" x="804.3" y="378.9" text-anchor="end" textLength="4.7" lengthAdjust="spacingAndGlyphs">0</text>
<text class="tk" x="831.5" y="389.2" text-anchor="middle" textLength="4.7" lengthAdjust="spacingAndGlyphs">5</text>
<text class="tk" x="804.3" y="358.1" text-anchor="end" textLength="4.7" lengthAdjust="spacingAndGlyphs">5</text>
<text class="tk" x="852.5" y="389.2" text-anchor="middle" textLength="9.5" lengthAdjust="spacingAndGlyphs">10</text>
<text class="tk" x="804.3" y="337.3" text-anchor="end" textLength="9.5" lengthAdjust="spacingAndGlyphs">10</text>
<text class="tk" x="873.5" y="389.2" text-anchor="middle" textLength="9.5" lengthAdjust="spacingAndGlyphs">15</text>
<text class="tk" x="804.3" y="316.5" text-anchor="end" textLength="9.5" lengthAdjust="spacingAndGlyphs">15</text>
<text class="tk" x="894.5" y="389.2" text-anchor="middle" textLength="9.5" lengthAdjust="spacingAndGlyphs">20</text>
<text class="tk" x="804.3" y="295.7" text-anchor="end" textLength="9.5" lengthAdjust="spacingAndGlyphs">20</text>
<text class="tk" x="915.5" y="389.2" text-anchor="middle" textLength="9.5" lengthAdjust="spacingAndGlyphs">25</text>
<text class="tk" x="804.3" y="274.9" text-anchor="end" textLength="9.5" lengthAdjust="spacingAndGlyphs">25</text>
<text class="t10" x="861.6" y="398.8" text-anchor="middle">ANALYSIS</text>
<text class="t10" transform="translate(791.2,324) rotate(-90)" text-anchor="middle">GSMAP_NRT_1HR</text>
<text class="t12" x="276.4" y="25.7" text-anchor="middle">GSMAP_NRT_1HR estimates for 20260402 01</text>
<text class="t12" x="746.4" y="25.7" text-anchor="middle">Hourly Radar-AMeDAS analysis for 20260402 01</text>
<text class="tk" x="149.7" y="425.4" text-anchor="middle" textLength="22.6" lengthAdjust="spacingAndGlyphs">125°E</text>
<text class="tk" x="213.4" y="425.4" text-anchor="middle" textLength="22.6" lengthAdjust="spacingAndGlyphs">130°E</text>
<text class="tk" x="277.2" y="425.4" text-anchor="middle" textLength="22.6" lengthAdjust="spacingAndGlyphs">135°E</text>
<text class="tk" x="340.9" y="425.4" text-anchor="middle" textLength="22.6" lengthAdjust="spacingAndGlyphs">140°E</text>
<text class="tk" x="404.7" y="425.4" text-anchor="middle" textLength="22.6" lengthAdjust="spacingAndGlyphs">145°E</text>
<text class="tk" x="80.9" y="96.5" text-anchor="end" textLength="18.8" lengthAdjust="spacingAndGlyphs">45°N</text>
<text class="tk" x="80.9" y="160.3" text-anchor="end" textLength="18.8" lengthAdjust="spacingAndGlyphs">40°N</text>
<text class="tk" x="80.9" y="224.1" text-anchor="end" textLength="18.8" lengthAdjust="spacingAndGlyphs">35°N</text>
<text class="tk" x="80.9" y="287.8" text-anchor="end" textLength="18.8" lengthAdjust="spacingAndGlyphs">30°N</text>
<text class="tk" x="80.9" y="351.6" text-anchor="end" textLength="18.8" lengthAdjust="spacingAndGlyphs">25°N</text>
<text class="tk" x="618.7" y="425.4" text-anchor="middle" textLength="22.6" lengthAdjust="spacingAndGlyphs">125°E</text>
<text class="tk" x="682.5" y="425.4" text-anchor="middle" textLength="22.6" lengthAdjust="spacingAndGlyphs">130°E</text>
<text class="tk" x="746.3" y="425.4" text-anchor="middle" textLength="22.6" lengthAdjust="spacingAndGlyphs">135°E</text>
<text class="tk" x="810.1" y="425.4" text-anchor="middle" textLength="22.6" lengthAdjust="spacingAndGlyphs">140°E</text>
<text class="tk" x="873.9" y="425.4" text-anchor="middle" textLength="22.6" lengthAdjust="spacingAndGlyphs">145°E</text>
<text class="tk" x="550.9" y="96.5" text-anchor="end" textLength="18.8" lengthAdjust="spacingAndGlyphs">45°N</text>
<text class="tk" x="550.9" y="160.3" text-anchor="end" textLength="18.8" lengthAdjust="spacingAndGlyphs">40°N</text>
<text class="tk" x="550.9" y="224.1" text-anchor="end" textLength="18.8" lengthAdjust="spacingAndGlyphs">35°N</text>
<text class="tk" x="550.9" y="287.8" text-anchor="end" textLength="18.8" lengthAdjust="spacingAndGlyphs">30°N</text>
<text class="tk" x="550.9" y="351.6" text-anchor="end" textLength="18.8" lengthAdjust="spacingAndGlyphs">25°N</text>
<rect x="972.0" y="48.50" width="21.5" height="36.90" fill="#cd9944"/>
<rect x="972.0" y="85.10" width="21.5" height="36.90" fill="#ff00ff"/>
<rect x="972.0" y="121.70" width="21.5" height="36.90" fill="#dd66ff"/>
<rect x="972.0" y="158.30" width="21.5" height="36.90" fill="#9966ff"/>
<rect x="972.0" y="194.90" width="21.5" height="36.90" fill="#0066ff"/>
<rect x="972.0" y="231.50" width="21.5" height="36.90" fill="#00c3ff"/>
<rect x="972.0" y="268.10" width="21.5" height="36.90" fill="#66ffff"/>
<rect x="972.0" y="304.70" width="21.5" height="36.90" fill="#99ff99"/>
<rect x="972.0" y="341.30" width="21.5" height="36.90" fill="#ddffcc"/>
<rect x="972.0" y="377.90" width="21.5" height="36.90" fill="#ffe8bb"/>
<path d="M972.0,48.5 L982.8,30.2 L993.5,48.5Z" fill="#000" stroke="#000" stroke-width="1" stroke-linejoin="miter"/>
<rect x="972.0" y="413.6" width="21.5" height="2" fill="#fff"/>
<rect class="thin" x="972.0" y="48.5" width="21.5" height="364.9" style="stroke-width:1"/>
<line x1="993.5" y1="48.5" x2="997.7" y2="48.5" stroke="#000" stroke-width="0.9"/>
<text class="t11" x="1001.0" y="52.9">50</text>
<line x1="993.5" y1="85.1" x2="997.7" y2="85.1" stroke="#000" stroke-width="0.9"/>
<text class="t11" x="1001.0" y="89.5">25</text>
<line x1="993.5" y1="121.7" x2="997.7" y2="121.7" stroke="#000" stroke-width="0.9"/>
<text class="t11" x="1001.0" y="126.1">10</text>
<line x1="993.5" y1="158.3" x2="997.7" y2="158.3" stroke="#000" stroke-width="0.9"/>
<text class="t11" x="1001.0" y="162.7">5</text>
<line x1="993.5" y1="194.9" x2="997.7" y2="194.9" stroke="#000" stroke-width="0.9"/>
<text class="t11" x="1001.0" y="199.3">4</text>
<line x1="993.5" y1="231.5" x2="997.7" y2="231.5" stroke="#000" stroke-width="0.9"/>
<text class="t11" x="1001.0" y="235.9">3</text>
<line x1="993.5" y1="268.1" x2="997.7" y2="268.1" stroke="#000" stroke-width="0.9"/>
<text class="t11" x="1001.0" y="272.5">2</text>
<line x1="993.5" y1="304.7" x2="997.7" y2="304.7" stroke="#000" stroke-width="0.9"/>
<text class="t11" x="1001.0" y="309.1">1</text>
<line x1="993.5" y1="341.3" x2="997.7" y2="341.3" stroke="#000" stroke-width="0.9"/>
<text class="t11" x="1001.0" y="345.7">0.5</text>
<line x1="993.5" y1="377.9" x2="997.7" y2="377.9" stroke="#000" stroke-width="0.9"/>
<text class="t11" x="1001.0" y="382.3">0.01</text>
<line x1="993.5" y1="414.5" x2="997.7" y2="414.5" stroke="#000" stroke-width="0.9"/>
<text class="t11" x="1001.0" y="418.9">0</text>
<text class="t10" x="140.6" y="447.1" text-anchor="middle">Hourly fraction by occurence</text>
<rect x="74.6" y="452.4" width="116.00" height="17.9" fill="#ffe8bb" stroke="#000" stroke-width="0.7"/><rect x="190.6" y="452.4" width="8.80" height="17.9" fill="#ddffcc" stroke="#000" stroke-width="0.7"/><rect x="199.4" y="452.4" width="1.20" height="17.9" fill="#99ff99" stroke="#000" stroke-width="0.4"/><rect x="200.6" y="452.4" width="1.10" height="17.9" fill="#66ffff" stroke="#000" stroke-width="0.4"/><rect x="201.7" y="452.4" width="1.10" height="17.9" fill="#00c3ff" stroke="#000" stroke-width="0.4"/><rect x="202.8" y="452.4" width="1.10" height="17.9" fill="#0066ff" stroke="#000" stroke-width="0.4"/><rect x="203.9" y="452.4" width="0.80" height="17.9" fill="#9966ff" stroke="#000" stroke-width="0.4"/><rect x="204.7" y="452.4" width="1.60" height="17.9" fill="#dd66ff" stroke="#000" stroke-width="0.4"/><rect x="206.3" y="452.4" width="1.40" height="17.9" fill="#ff00ff" stroke="#000" stroke-width="0.4"/>
<rect x="74.6" y="479.2" width="92.80" height="18.3" fill="#ffe8bb" stroke="#000" stroke-width="0.7"/><rect x="167.4" y="479.2" width="25.10" height="18.3" fill="#ddffcc" stroke="#000" stroke-width="0.7"/><rect x="192.5" y="479.2" width="5.00" height="18.3" fill="#99ff99" stroke="#000" stroke-width="0.7"/><rect x="197.5" y="479.2" width="5.00" height="18.3" fill="#66ffff" stroke="#000" stroke-width="0.7"/><rect x="202.5" y="479.2" width="2.90" height="18.3" fill="#00c3ff" stroke="#000" stroke-width="0.7"/><rect x="205.4" y="479.2" width="1.20" height="18.3" fill="#0066ff" stroke="#000" stroke-width="0.4"/><rect x="206.6" y="479.2" width="0.60" height="18.3" fill="#9966ff" stroke="#000" stroke-width="0.4"/><rect x="207.2" y="479.2" width="0.50" height="18.3" fill="#dd66ff" stroke="#000" stroke-width="0.4"/>
<path d="M190.6,470.3L167.4,479.2M199.4,470.3L192.5,479.2M200.6,470.3L197.5,479.2M201.7,470.3L202.5,479.2M202.8,470.3L205.4,479.2M203.9,470.3L206.6,479.2M204.7,470.3L207.2,479.2M206.3,470.3L207.7,479.2M207.7,470.3L207.7,479.2" stroke="#000" stroke-width="0.6" fill="none"/>
<text class="t10" x="47.3" y="466.0">Est</text><text class="t10" x="48.0" y="493.0">Obs</text>
<text class="t10" x="58.2" y="509.6">0%</text><text class="t10" x="135.6" y="509.6" text-anchor="middle">Areal fraction</text><text class="t10" x="194.6" y="509.6">100%</text>
<text class="t10" x="140.0" y="528.2" text-anchor="middle">Hourly fraction of total rain</text>
<rect x="74.6" y="533.5" width="4.80" height="17.9" fill="#ddffcc" stroke="#000" stroke-width="0.7"/><rect x="79.4" y="533.5" width="2.80" height="17.9" fill="#99ff99" stroke="#000" stroke-width="0.7"/><rect x="82.2" y="533.5" width="7.20" height="17.9" fill="#66ffff" stroke="#000" stroke-width="0.7"/><rect x="89.4" y="533.5" width="9.00" height="17.9" fill="#00c3ff" stroke="#000" stroke-width="0.7"/><rect x="98.4" y="533.5" width="10.00" height="17.9" fill="#0066ff" stroke="#000" stroke-width="0.7"/><rect x="108.4" y="533.5" width="15.20" height="17.9" fill="#9966ff" stroke="#000" stroke-width="0.7"/><rect x="123.6" y="533.5" width="43.90" height="17.9" fill="#dd66ff" stroke="#000" stroke-width="0.7"/><rect x="167.5" y="533.5" width="40.20" height="17.9" fill="#ff00ff" stroke="#000" stroke-width="0.7"/>
<rect x="74.6" y="560.4" width="18.70" height="17.9" fill="#ddffcc" stroke="#000" stroke-width="0.7"/><rect x="93.3" y="560.4" width="14.10" height="17.9" fill="#99ff99" stroke="#000" stroke-width="0.7"/><rect x="107.4" y="560.4" width="26.20" height="17.9" fill="#66ffff" stroke="#000" stroke-width="0.7"/><rect x="133.6" y="560.4" width="31.80" height="17.9" fill="#00c3ff" stroke="#000" stroke-width="0.7"/><rect x="165.4" y="560.4" width="9.40" height="17.9" fill="#0066ff" stroke="#000" stroke-width="0.7"/><rect x="174.8" y="560.4" width="7.40" height="17.9" fill="#9966ff" stroke="#000" stroke-width="0.7"/><rect x="182.2" y="560.4" width="2.10" height="17.9" fill="#dd66ff" stroke="#000" stroke-width="0.7"/><rect x="184.3" y="560.4" width="0.60" height="17.9" fill="#ff00ff" stroke="#000" stroke-width="0.4"/>
<path d="M79.4,551.4L93.3,560.4M82.2,551.4L107.4,560.4M89.4,551.4L133.6,560.4M98.4,551.4L165.4,560.4M108.4,551.4L174.8,560.4M123.6,551.4L182.2,560.4M167.5,551.4L184.3,560.4M207.7,551.4L184.9,560.4" stroke="#000" stroke-width="0.6" fill="none"/>
<text class="t10" x="47.3" y="547.0">Est</text><text class="t10" x="48.0" y="574.0">Obs</text>
<text class="t10" x="140.8" y="589.9" text-anchor="middle">Rainfall accumulation by amount</text>
<rect class="thin" x="277.5" y="478.5" width="124.0" height="95.0" style="stroke-width:1"/>
<path class="thin" style="stroke-width:1" d="M339.5,478.5V573.5M277.5,526.5H401.5"/>
<text class="t10" x="338.8" y="455.2" text-anchor="middle">GSMAP_NRT_1HR</text>
<text class="t10" x="308.3" y="469.9" text-anchor="middle">&lt;0.01</text><text class="t10" x="369.9" y="469.9" text-anchor="middle">≥0.01</text>
<text class="t10" x="275.0" y="505.8" text-anchor="end">&lt;0.01</text><text class="t10" x="274.6" y="553.0" text-anchor="end">≥0.01</text>
<text class="t10" transform="translate(246.6,520.2) rotate(-90)" text-anchor="middle">ANALYSIS</text>
<text class="t10" x="308.4" y="505.8" text-anchor="middle">2798</text>
<text class="t10" x="370.6" y="505.8" text-anchor="middle">38</text>
<text class="t10" x="308.4" y="553.0" text-anchor="middle">105</text>
<text class="t10" x="370.6" y="553.0" text-anchor="middle">116</text>
<text class="t10" x="460.3" y="454.1">Validation statistics for 20260402 01  n=3057 Valid. grid=0.25° Units=mm/hr.</text>
<line x1="457.6" y1="457.4" x2="996.6" y2="457.4" stroke="#000" stroke-width="1.05" stroke-dasharray="3.7,1.6"/>
<line x1="457.6" y1="480.4" x2="758.2" y2="480.4" stroke="#000" stroke-width="1.05" stroke-dasharray="3.7,1.6"/>
<text class="t10" x="609.0" y="475.2">ANALYSIS</text><text class="t10" x="670.4" y="475.2">GSMAP_NRT_1HR</text>
<text class="t10" x="460.3" y="498.9">Num of gridpoints raining</text>
<text class="t10" x="648.6" y="498.9" text-anchor="end">221</text><text class="t10" x="729.6" y="498.9" text-anchor="end">154</text>
<text class="t10" x="460.3" y="518.5">Average rain</text>
<text class="t10" x="648.6" y="518.5" text-anchor="end">0.2</text><text class="t10" x="729.6" y="518.5" text-anchor="end">0.3</text>
<text class="t10" x="460.3" y="539.0">Conditional rain</text>
<text class="t10" x="648.6" y="539.0" text-anchor="end">3.1</text><text class="t10" x="729.6" y="539.0" text-anchor="end">5.4</text>
<text class="t10" x="461.2" y="558.6999999999999">Rain volume (mm km<tspan font-size="7" dy="-3.6" dx="0.3">2</tspan><tspan dy="3.6" dx="0.5">10</tspan><tspan font-size="7" dy="-3.6" dx="0.3">6</tspan><tspan dy="3.6" dx="0.4">)</tspan></text>
<text class="t10" x="648.6" y="558.3" text-anchor="end">0.4</text><text class="t10" x="729.6" y="558.3" text-anchor="end">0.5</text>
<text class="t10" x="460.3" y="577.7">Maximum rain</text>
<text class="t10" x="648.6" y="577.7" text-anchor="end">5.3</text><text class="t10" x="729.6" y="577.7" text-anchor="end">16.5</text>
<text class="t10" x="784.2" y="472.0">Mean abs error =    0.3</text>
<text class="t10" x="784.2" y="489.0">RMS error =    1.2</text>
<text class="t10" x="784.2" y="506.0">Correlation coeff =  0.486</text>
<text class="t10" x="784.2" y="523.0">Frequency bias =  0.697</text>
<text class="t10" x="784.2" y="540.0">Probability of detection =  0.525</text>
<text class="t10" x="784.2" y="557.0">False alarm ratio =  0.247</text>
<text class="t10" x="784.2" y="574.0">Hanssen &amp; Kuipers score =  0.511</text>
<text class="t10" x="784.2" y="591.0">Equitable threat score =  0.423</text>
</svg></body></html>
